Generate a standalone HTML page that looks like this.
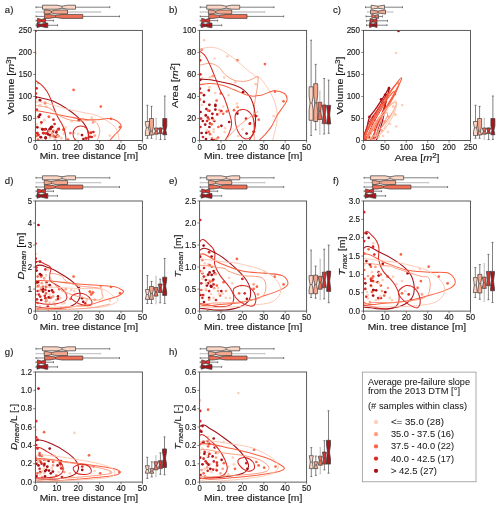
<!DOCTYPE html>
<html><head><meta charset="utf-8"><style>
html,body{margin:0;padding:0;background:#fff;overflow:hidden;}
svg{display:block;will-change:transform;}
text{font-family:"Liberation Sans", sans-serif;fill:#1a1a1a;stroke:#1a1a1a;stroke-width:0.14px;}
</style></head><body>
<svg width="500" height="508" viewBox="0 0 500 508">
<rect x="0" y="0" width="500" height="508" fill="#ffffff"/>
<g id="pa">
<clipPath id="clipa"><rect x="35.4" y="30.4" width="107" height="110.1"/></clipPath>
<g clip-path="url(#clipa)"><circle cx="35.6" cy="30.8" r="1.35" fill="#a50f15"/><circle cx="35.9" cy="53" r="1.35" fill="#fdd0bc"/><circle cx="37.9" cy="83.1" r="1.35" fill="#fca083"/><circle cx="36.6" cy="88.3" r="1.35" fill="#da2a25"/><circle cx="73.6" cy="89.9" r="1.35" fill="#fa6548"/><circle cx="35.9" cy="93.5" r="1.35" fill="#da2a25"/><circle cx="35.9" cy="97.4" r="1.35" fill="#a50f15"/><circle cx="39.8" cy="100" r="1.35" fill="#a50f15"/><circle cx="36.6" cy="102" r="1.35" fill="#fdd0bc"/><circle cx="45" cy="103.3" r="1.35" fill="#fca083"/><circle cx="39.8" cy="105.2" r="1.35" fill="#fdd0bc"/><circle cx="46.3" cy="106.5" r="1.35" fill="#fdd0bc"/><circle cx="36.6" cy="109.8" r="1.35" fill="#fa6548"/><circle cx="39.8" cy="115" r="1.35" fill="#a50f15"/><circle cx="38.5" cy="116.9" r="1.35" fill="#a50f15"/><circle cx="48.9" cy="116.3" r="1.35" fill="#fca083"/><circle cx="44.4" cy="120.2" r="1.35" fill="#fdd0bc"/><circle cx="71.7" cy="121.5" r="1.35" fill="#fdd0bc"/><circle cx="78.8" cy="120.2" r="1.35" fill="#a50f15"/><circle cx="91.8" cy="118.2" r="1.35" fill="#fdd0bc"/><circle cx="36.6" cy="124.7" r="1.35" fill="#fdd0bc"/><circle cx="40.5" cy="128" r="1.35" fill="#fdd0bc"/><circle cx="42.4" cy="129.2" r="1.35" fill="#a50f15"/><circle cx="45.7" cy="129.2" r="1.35" fill="#a50f15"/><circle cx="50.9" cy="127.3" r="1.35" fill="#a50f15"/><circle cx="49.6" cy="129.2" r="1.35" fill="#a50f15"/><circle cx="53.5" cy="130.5" r="1.35" fill="#fca083"/><circle cx="58" cy="129.2" r="1.35" fill="#fa6548"/><circle cx="63.9" cy="129.2" r="1.35" fill="#fa6548"/><circle cx="64.5" cy="133.1" r="1.35" fill="#fdd0bc"/><circle cx="37.2" cy="133.1" r="1.35" fill="#da2a25"/><circle cx="43.7" cy="133.1" r="1.35" fill="#da2a25"/><circle cx="47" cy="133.1" r="1.35" fill="#da2a25"/><circle cx="57.4" cy="135.7" r="1.35" fill="#a50f15"/><circle cx="53.5" cy="135.7" r="1.35" fill="#fa6548"/><circle cx="50.2" cy="137" r="1.35" fill="#fdd0bc"/><circle cx="40.5" cy="137" r="1.35" fill="#a50f15"/><circle cx="45.7" cy="138.3" r="1.35" fill="#a50f15"/><circle cx="61.3" cy="138.3" r="1.35" fill="#fdd0bc"/><circle cx="70.4" cy="133.1" r="1.35" fill="#fa6548"/><circle cx="74.3" cy="133.1" r="1.35" fill="#fdd0bc"/><circle cx="82" cy="135.1" r="1.35" fill="#a50f15"/><circle cx="83.4" cy="139" r="1.35" fill="#a50f15"/><circle cx="86" cy="138.3" r="1.35" fill="#fa6548"/><circle cx="89.8" cy="133.1" r="1.35" fill="#fa6548"/><circle cx="91.8" cy="137" r="1.35" fill="#da2a25"/><circle cx="78.2" cy="133.8" r="1.35" fill="#fdd0bc"/><circle cx="40.2" cy="100.4" r="1.35" fill="#a50f15"/><circle cx="45.2" cy="102.9" r="1.35" fill="#fa6548"/><circle cx="39.8" cy="105.4" r="1.35" fill="#fdd0bc"/><circle cx="36.9" cy="109.9" r="1.35" fill="#da2a25"/><circle cx="40.2" cy="114.5" r="1.35" fill="#a50f15"/><circle cx="39" cy="117" r="1.35" fill="#a50f15"/><circle cx="36.5" cy="118.2" r="1.35" fill="#fdd0bc"/><circle cx="48.9" cy="117" r="1.35" fill="#fa6548"/><circle cx="44.3" cy="119.9" r="1.35" fill="#fdd0bc"/><circle cx="41" cy="124" r="1.35" fill="#fdd0bc"/><circle cx="37.3" cy="127.3" r="1.35" fill="#a50f15"/><circle cx="51.8" cy="126.9" r="1.35" fill="#a50f15"/><circle cx="42.7" cy="129.4" r="1.35" fill="#a50f15"/><circle cx="44.8" cy="129.4" r="1.35" fill="#da2a25"/><circle cx="50.6" cy="129" r="1.35" fill="#a50f15"/><circle cx="48.5" cy="131" r="1.35" fill="#a50f15"/><circle cx="53" cy="131.9" r="1.35" fill="#da2a25"/><circle cx="56.8" cy="131" r="1.35" fill="#fa6548"/><circle cx="58.8" cy="129.4" r="1.35" fill="#fa6548"/><circle cx="63.4" cy="129.8" r="1.35" fill="#fa6548"/><circle cx="65.5" cy="127.3" r="1.35" fill="#fdd0bc"/><circle cx="37.3" cy="133.1" r="1.35" fill="#da2a25"/><circle cx="43.1" cy="133.1" r="1.35" fill="#da2a25"/><circle cx="45.6" cy="133.5" r="1.35" fill="#da2a25"/><circle cx="50.1" cy="135.2" r="1.35" fill="#a50f15"/><circle cx="53.9" cy="136.4" r="1.35" fill="#fa6548"/><circle cx="57.6" cy="136" r="1.35" fill="#a50f15"/><circle cx="41" cy="137.3" r="1.35" fill="#a50f15"/><circle cx="45.6" cy="137.3" r="1.35" fill="#a50f15"/><circle cx="37.3" cy="136.4" r="1.35" fill="#fdd0bc"/><circle cx="61.3" cy="138.1" r="1.35" fill="#fdd0bc"/><circle cx="49.7" cy="138.1" r="1.35" fill="#fdd0bc"/><circle cx="63.8" cy="134" r="1.35" fill="#fdd0bc"/><circle cx="100.8" cy="106.6" r="1.35" fill="#fa6548"/><circle cx="111" cy="118.8" r="1.35" fill="#fa6548"/><circle cx="120" cy="127.2" r="1.35" fill="#fa6548"/><circle cx="91.8" cy="117.6" r="1.35" fill="#fdd0bc"/><circle cx="93" cy="122.4" r="1.35" fill="#fca083"/><circle cx="94.8" cy="135.6" r="1.35" fill="#fca083"/><circle cx="109.8" cy="135.6" r="1.35" fill="#fdd0bc"/><circle cx="91.2" cy="132.6" r="1.35" fill="#da2a25"/><circle cx="93.4" cy="132" r="1.35" fill="#da2a25"/><circle cx="85.8" cy="138" r="1.35" fill="#da2a25"/><circle cx="90" cy="136.8" r="1.35" fill="#da2a25"/><circle cx="38" cy="139.5" r="1.35" fill="#fa6548"/><circle cx="42" cy="139.8" r="1.35" fill="#fdd0bc"/><circle cx="55" cy="139.6" r="1.35" fill="#fca083"/><circle cx="68" cy="139.6" r="1.35" fill="#fa6548"/><circle cx="75" cy="139.5" r="1.35" fill="#fdd0bc"/><circle cx="55.9" cy="136.9" r="1.35" fill="#da2a25"/><circle cx="65.8" cy="145.1" r="1.35" fill="#fa6548"/><circle cx="56.3" cy="132.4" r="1.35" fill="#a50f15"/><circle cx="51.8" cy="135.9" r="1.35" fill="#fca083"/><circle cx="52.3" cy="127" r="1.35" fill="#a50f15"/><circle cx="41.4" cy="122.3" r="1.35" fill="#da2a25"/><circle cx="57.7" cy="136.4" r="1.35" fill="#fdd0bc"/><circle cx="54.6" cy="124" r="1.35" fill="#da2a25"/><circle cx="36.7" cy="135.7" r="1.35" fill="#fa6548"/><circle cx="49.4" cy="131.1" r="1.35" fill="#fca083"/><circle cx="34.9" cy="136.8" r="1.35" fill="#da2a25"/><circle cx="51.6" cy="141.6" r="1.35" fill="#fdd0bc"/><circle cx="33.2" cy="135.5" r="1.35" fill="#a50f15"/><circle cx="48.2" cy="134.3" r="1.35" fill="#a50f15"/><circle cx="52" cy="133" r="1.35" fill="#fca083"/><circle cx="53.5" cy="119.7" r="1.35" fill="#da2a25"/><circle cx="58.8" cy="128.9" r="1.35" fill="#da2a25"/><circle cx="38.5" cy="134.8" r="1.35" fill="#da2a25"/><circle cx="34" cy="123.9" r="1.35" fill="#a50f15"/><circle cx="58.7" cy="136.2" r="1.35" fill="#fca083"/><path d="M35.5,80.5 C36.5,81.3 39.9,83.2 41.8,85.1 C43.7,86.9 45.5,89.2 47,91.6 C48.5,94 49.8,96.8 50.9,99.4 C52,102 52.4,104.4 53.5,107.2 C54.6,110 56,113.5 57.4,116.3 C58.8,119.1 60.7,121.7 61.9,124.1 C63.1,126.5 63.9,128.3 64.5,130.5 C65.2,132.7 65.6,135.1 65.8,137 C66,138.9 65.8,141.2 65.8,142" fill="none" stroke="#d92823" stroke-width="1.035"/><path d="M35.5,96.8 C37,97.1 41.4,98 44.4,98.7 C47.4,99.5 49.8,99.7 53.5,101.3 C57.2,102.9 62.6,106 66.5,108.5 C70.4,111 74.1,113.9 76.9,116.3 C79.7,118.7 81.7,120.7 83.4,122.8 C85.1,124.9 86.4,127 87.2,129.2 C88,131.3 88.2,133.6 88.5,135.7 C88.8,137.8 88.8,140.9 88.8,142" fill="none" stroke="#a50f15" stroke-width="1.035"/><path d="M35.5,101.3 C37.4,101.6 42.9,102.3 47,103.3 C51.1,104.3 55.7,106 60,107.2 C64.3,108.4 68.7,109.4 73,110.4 C77.3,111.4 82.2,112.2 86,113 C89.8,113.8 92.7,114 96,115.2 C99.3,116.4 102.6,118.2 105.6,120 C108.6,121.8 112,124 114,126 C116,128 116.8,130 117.6,132 C118.4,134 118.6,136.3 118.8,138 C119,139.7 118.8,141.3 118.8,142" fill="none" stroke="#fcc5ae" stroke-width="0.9199999999999999"/><path d="M35.5,110.4 C37.4,110.7 42.9,111.6 47,112.4 C51.1,113.2 55.7,114.1 60,115 C64.3,115.9 68.7,116.8 73,117.6 C77.3,118.3 82.2,119.1 86,119.5 C89.8,119.9 92.3,120 96,119.8 C99.7,119.6 104.8,118.6 108,118.6 C111.2,118.6 113.2,119.2 115.2,120 C117.2,120.8 119,122.5 120,123.6 C121,124.7 121.4,125.4 121.2,126.6 C121,127.8 120,129.3 118.8,130.8 C117.6,132.3 115.7,133.7 114,135.6 C112.3,137.5 109.4,140.9 108.5,142" fill="none" stroke="#f9603f" stroke-width="1.035"/><path d="M35.5,105.5 C37.2,105.8 43.4,106.4 46,107 C48.6,107.6 49.3,108 51,109 C52.7,110 54.2,111.7 56,113 C57.8,114.3 59.7,115.8 62,117 C64.3,118.2 67,119.3 70,120 C73,120.7 77,120.9 80,121 C83,121.1 85.9,120.7 88,120.5 C90.1,120.3 90.9,119.5 92.4,120 C93.9,120.5 96,122 97.2,123.6 C98.4,125.2 99.3,127.6 99.6,129.6 C99.9,131.6 99.5,133.5 99,135.6 C98.5,137.7 96.9,140.9 96.5,142" fill="none" stroke="#fc9676" stroke-width="0.9199999999999999"/><path d="M80.8,126 C82.7,126 85.2,127 86.5,128.3 C87.8,129.6 88.6,132.1 88.6,134 C88.6,135.9 87.8,138.4 86.5,139.7 C85.2,141 82.7,142 80.8,142 C78.9,142 76.4,141 75.1,139.7 C73.8,138.4 73,135.9 73,134 C73,132.1 73.8,129.6 75.1,128.3 C76.4,127 78.9,126 80.8,126Z" fill="none" stroke="#d92823" stroke-width="1.035"/></g>
<rect x="35.4" y="30.4" width="107" height="110.1" fill="none" stroke="#4a4a4a" stroke-width="0.9"/>
<line x1="35.4" y1="140.5" x2="35.4" y2="142.7" stroke="#4a4a4a" stroke-width="0.7"/>
<text x="35.4" y="149.5" text-anchor="middle" font-size="8.3" textLength="4.35" lengthAdjust="spacingAndGlyphs">0</text>
<line x1="56.8" y1="140.5" x2="56.8" y2="142.7" stroke="#4a4a4a" stroke-width="0.7"/>
<text x="56.8" y="149.5" text-anchor="middle" font-size="8.3" textLength="9.2" lengthAdjust="spacingAndGlyphs">10</text>
<line x1="78.2" y1="140.5" x2="78.2" y2="142.7" stroke="#4a4a4a" stroke-width="0.7"/>
<text x="78.2" y="149.5" text-anchor="middle" font-size="8.3" textLength="9.2" lengthAdjust="spacingAndGlyphs">20</text>
<line x1="99.6" y1="140.5" x2="99.6" y2="142.7" stroke="#4a4a4a" stroke-width="0.7"/>
<text x="99.6" y="149.5" text-anchor="middle" font-size="8.3" textLength="9.2" lengthAdjust="spacingAndGlyphs">30</text>
<line x1="121" y1="140.5" x2="121" y2="142.7" stroke="#4a4a4a" stroke-width="0.7"/>
<text x="121" y="149.5" text-anchor="middle" font-size="8.3" textLength="9.2" lengthAdjust="spacingAndGlyphs">40</text>
<line x1="142.4" y1="140.5" x2="142.4" y2="142.7" stroke="#4a4a4a" stroke-width="0.7"/>
<text x="142.4" y="149.5" text-anchor="middle" font-size="8.3" textLength="9.2" lengthAdjust="spacingAndGlyphs">50</text>
<line x1="33.2" y1="140.5" x2="35.4" y2="140.5" stroke="#4a4a4a" stroke-width="0.7"/>
<text x="32" y="143.1" text-anchor="end" font-size="8.3" textLength="4.35" lengthAdjust="spacingAndGlyphs">0</text>
<line x1="33.2" y1="118.48" x2="35.4" y2="118.48" stroke="#4a4a4a" stroke-width="0.7"/>
<text x="32" y="121.08" text-anchor="end" font-size="8.3" textLength="9.2" lengthAdjust="spacingAndGlyphs">50</text>
<line x1="33.2" y1="96.46" x2="35.4" y2="96.46" stroke="#4a4a4a" stroke-width="0.7"/>
<text x="32" y="99.06" text-anchor="end" font-size="8.3" textLength="13.45" lengthAdjust="spacingAndGlyphs">100</text>
<line x1="33.2" y1="74.44" x2="35.4" y2="74.44" stroke="#4a4a4a" stroke-width="0.7"/>
<text x="32" y="77.04" text-anchor="end" font-size="8.3" textLength="13.45" lengthAdjust="spacingAndGlyphs">150</text>
<line x1="33.2" y1="52.42" x2="35.4" y2="52.42" stroke="#4a4a4a" stroke-width="0.7"/>
<text x="32" y="55.02" text-anchor="end" font-size="8.3" textLength="13.45" lengthAdjust="spacingAndGlyphs">200</text>
<line x1="33.2" y1="30.4" x2="35.4" y2="30.4" stroke="#4a4a4a" stroke-width="0.7"/>
<text x="32" y="33" text-anchor="end" font-size="8.3" textLength="13.45" lengthAdjust="spacingAndGlyphs">250</text>
<text x="88.9" y="159.4" text-anchor="middle" font-size="9.2" textLength="98.4" lengthAdjust="spacingAndGlyphs">Min. tree distance [m]</text>
<text transform="translate(13.8,85.45) rotate(-90)" x="0" y="0" text-anchor="middle" font-size="9.2" textLength="58" lengthAdjust="spacingAndGlyphs">Volume [<tspan font-style="italic">m</tspan><tspan dy="-3" font-size="6.5">3</tspan><tspan dy="3">]</tspan></text>
<text x="4.8" y="13" font-size="9.6" fill="#000">a)</text>
<line x1="36" y1="7.2" x2="42.5" y2="7.2" stroke="#4a4a4a" stroke-width="0.7"/>
<line x1="75.5" y1="7.2" x2="109.8" y2="7.2" stroke="#4a4a4a" stroke-width="0.7"/>
<line x1="36" y1="6.2" x2="36" y2="8.2" stroke="#4a4a4a" stroke-width="0.7"/>
<line x1="109.8" y1="6.2" x2="109.8" y2="8.2" stroke="#4a4a4a" stroke-width="0.7"/>
<polygon points="42.5,5.2 57,5.2 62,6.2 67.5,5.2 75.5,5.2 75.5,9.2 67.5,9.2 62,8.2 57,9.2 42.5,9.2" fill="#fcd5c5" stroke="#3a3a3a" stroke-width="0.7"/>
<line x1="62" y1="6.2" x2="62" y2="8.2" stroke="#3a3a3a" stroke-width="0.6"/>
<line x1="36" y1="12" x2="44.2" y2="12" stroke="#c8c8c8" stroke-width="1.3"/>
<line x1="67.5" y1="12" x2="100.8" y2="12" stroke="#c8c8c8" stroke-width="1.3"/>
<line x1="36" y1="11" x2="36" y2="13" stroke="#c8c8c8" stroke-width="0.7"/>
<line x1="100.8" y1="11" x2="100.8" y2="13" stroke="#c8c8c8" stroke-width="0.7"/>
<polygon points="44.2,10 47,10 51.5,11 56,10 67.5,10 67.5,14 56,14 51.5,13 47,14 44.2,14" fill="#f5a88e" stroke="#3a3a3a" stroke-width="0.7"/>
<line x1="51.5" y1="11" x2="51.5" y2="13" stroke="#3a3a3a" stroke-width="0.6"/>
<line x1="36" y1="16.4" x2="44.5" y2="16.4" stroke="#4a4a4a" stroke-width="0.7"/>
<line x1="82.8" y1="16.4" x2="119.5" y2="16.4" stroke="#4a4a4a" stroke-width="0.7"/>
<line x1="36" y1="15.4" x2="36" y2="17.4" stroke="#4a4a4a" stroke-width="0.7"/>
<line x1="119.5" y1="15.4" x2="119.5" y2="17.4" stroke="#4a4a4a" stroke-width="0.7"/>
<polygon points="44.5,14.4 49,14.4 55.5,15.4 62,14.4 82.8,14.4 82.8,18.4 62,18.4 55.5,17.4 49,18.4 44.5,18.4" fill="#ee6f55" stroke="#3a3a3a" stroke-width="0.7"/>
<line x1="55.5" y1="15.4" x2="55.5" y2="17.4" stroke="#3a3a3a" stroke-width="0.6"/>
<line x1="36" y1="20.6" x2="37.5" y2="20.6" stroke="#4a4a4a" stroke-width="0.7"/>
<line x1="45.5" y1="20.6" x2="53.5" y2="20.6" stroke="#4a4a4a" stroke-width="0.7"/>
<line x1="36" y1="19.6" x2="36" y2="21.6" stroke="#4a4a4a" stroke-width="0.7"/>
<line x1="53.5" y1="19.6" x2="53.5" y2="21.6" stroke="#4a4a4a" stroke-width="0.7"/>
<polygon points="37.5,18.3 37.5,18.3 41.5,19.45 45.5,18.3 45.5,18.3 45.5,22.9 45.5,22.9 41.5,21.75 37.5,22.9 37.5,22.9" fill="#d5332e" stroke="#3a3a3a" stroke-width="0.7"/>
<line x1="41.5" y1="19.45" x2="41.5" y2="21.75" stroke="#3a3a3a" stroke-width="0.6"/>
<line x1="36" y1="25.3" x2="37" y2="25.3" stroke="#4a4a4a" stroke-width="0.7"/>
<line x1="47.8" y1="25.3" x2="57.5" y2="25.3" stroke="#4a4a4a" stroke-width="0.7"/>
<line x1="36" y1="24.3" x2="36" y2="26.3" stroke="#4a4a4a" stroke-width="0.7"/>
<line x1="57.5" y1="24.3" x2="57.5" y2="26.3" stroke="#4a4a4a" stroke-width="0.7"/>
<polygon points="37,23 37,23 41,24.15 46,23 47.8,23 47.8,27.6 46,27.6 41,26.45 37,27.6 37,27.6" fill="#a8161c" stroke="#3a3a3a" stroke-width="0.7"/>
<line x1="41" y1="24.15" x2="41" y2="26.45" stroke="#3a3a3a" stroke-width="0.6"/>
<line x1="147.4" y1="105.3" x2="147.4" y2="121.5" stroke="#4a4a4a" stroke-width="0.7"/>
<line x1="147.4" y1="135.6" x2="147.4" y2="138.3" stroke="#4a4a4a" stroke-width="0.7"/>
<line x1="146.4" y1="105.3" x2="148.4" y2="105.3" stroke="#4a4a4a" stroke-width="0.7"/>
<line x1="146.4" y1="138.3" x2="148.4" y2="138.3" stroke="#4a4a4a" stroke-width="0.7"/>
<polygon points="145.4,121.5 145.4,123.8 146.4,127.7 145.4,131.5 145.4,135.6 149.4,135.6 149.4,131.5 148.4,127.7 149.4,123.8 149.4,121.5" fill="#fcd5c5" stroke="#3a3a3a" stroke-width="0.7"/>
<line x1="146.4" y1="127.7" x2="148.4" y2="127.7" stroke="#3a3a3a" stroke-width="0.6"/>
<line x1="151.5" y1="106.4" x2="151.5" y2="118.5" stroke="#4a4a4a" stroke-width="0.7"/>
<line x1="151.5" y1="135" x2="151.5" y2="138.3" stroke="#4a4a4a" stroke-width="0.7"/>
<line x1="150.5" y1="106.4" x2="152.5" y2="106.4" stroke="#4a4a4a" stroke-width="0.7"/>
<line x1="150.5" y1="138.3" x2="152.5" y2="138.3" stroke="#4a4a4a" stroke-width="0.7"/>
<polygon points="149.5,118.5 149.5,126 150.5,131.2 149.5,135 149.5,135 153.5,135 153.5,135 152.5,131.2 153.5,126 153.5,118.5" fill="#f5a88e" stroke="#3a3a3a" stroke-width="0.7"/>
<line x1="150.5" y1="131.2" x2="152.5" y2="131.2" stroke="#3a3a3a" stroke-width="0.6"/>
<line x1="156.2" y1="118.2" x2="156.2" y2="128" stroke="#c8c8c8" stroke-width="1.3"/>
<line x1="156.2" y1="134.2" x2="156.2" y2="139.5" stroke="#c8c8c8" stroke-width="1.3"/>
<line x1="155.2" y1="118.2" x2="157.2" y2="118.2" stroke="#c8c8c8" stroke-width="0.7"/>
<line x1="155.2" y1="139.5" x2="157.2" y2="139.5" stroke="#c8c8c8" stroke-width="0.7"/>
<polygon points="154.2,128 154.2,128 155.2,131.2 154.2,134.2 154.2,134.2 158.2,134.2 158.2,134.2 157.2,131.2 158.2,128 158.2,128" fill="#ee6f55" stroke="#3a3a3a" stroke-width="0.7"/>
<line x1="155.2" y1="131.2" x2="157.2" y2="131.2" stroke="#3a3a3a" stroke-width="0.6"/>
<line x1="160.5" y1="128" x2="160.5" y2="128" stroke="#4a4a4a" stroke-width="0.7"/>
<line x1="160.5" y1="133.6" x2="160.5" y2="139.5" stroke="#4a4a4a" stroke-width="0.7"/>
<line x1="159.5" y1="128" x2="161.5" y2="128" stroke="#4a4a4a" stroke-width="0.7"/>
<line x1="159.5" y1="139.5" x2="161.5" y2="139.5" stroke="#4a4a4a" stroke-width="0.7"/>
<polygon points="158.5,128 158.5,128 159.5,131.3 158.5,133.6 158.5,133.6 162.5,133.6 162.5,133.6 161.5,131.3 162.5,128 162.5,128" fill="#d5332e" stroke="#3a3a3a" stroke-width="0.7"/>
<line x1="159.5" y1="131.3" x2="161.5" y2="131.3" stroke="#3a3a3a" stroke-width="0.6"/>
<line x1="164.8" y1="96" x2="164.8" y2="118.5" stroke="#4a4a4a" stroke-width="0.7"/>
<line x1="164.8" y1="134.75" x2="164.8" y2="139.5" stroke="#4a4a4a" stroke-width="0.7"/>
<line x1="163.8" y1="96" x2="165.8" y2="96" stroke="#4a4a4a" stroke-width="0.7"/>
<line x1="163.8" y1="139.5" x2="165.8" y2="139.5" stroke="#4a4a4a" stroke-width="0.7"/>
<polygon points="162.8,118.5 162.8,126 163.8,130.3 162.8,134.75 162.8,134.75 166.8,134.75 166.8,134.75 165.8,130.3 166.8,126 166.8,118.5" fill="#a8161c" stroke="#3a3a3a" stroke-width="0.7"/>
<line x1="163.8" y1="130.3" x2="165.8" y2="130.3" stroke="#3a3a3a" stroke-width="0.6"/>
</g>
<g id="pb">
<clipPath id="clipb"><rect x="199.6" y="30.4" width="107" height="110.1"/></clipPath>
<g clip-path="url(#clipb)"><circle cx="204.1" cy="40.2" r="1.35" fill="#fdd0bc"/><circle cx="201.7" cy="49.7" r="1.35" fill="#fa6548"/><circle cx="199.8" cy="56" r="1.35" fill="#fdd0bc"/><circle cx="200.2" cy="60.3" r="1.35" fill="#da2a25"/><circle cx="214.5" cy="58.5" r="1.35" fill="#fdd0bc"/><circle cx="227.3" cy="56.3" r="1.35" fill="#fdd0bc"/><circle cx="237.3" cy="60.3" r="1.35" fill="#fa6548"/><circle cx="200.4" cy="74.3" r="1.35" fill="#da2a25"/><circle cx="202.3" cy="78" r="1.35" fill="#fdd0bc"/><circle cx="212.6" cy="76.2" r="1.35" fill="#fca083"/><circle cx="224.2" cy="77.4" r="1.35" fill="#fdd0bc"/><circle cx="200.4" cy="79.8" r="1.35" fill="#a50f15"/><circle cx="209.6" cy="87.5" r="1.35" fill="#fdd0bc"/><circle cx="235.2" cy="82.3" r="1.35" fill="#fdd0bc"/><circle cx="255.3" cy="84.1" r="1.35" fill="#fdd0bc"/><circle cx="199.8" cy="88.6" r="1.35" fill="#a50f15"/><circle cx="204" cy="95.2" r="1.35" fill="#a50f15"/><circle cx="208.8" cy="90.4" r="1.35" fill="#da2a25"/><circle cx="209.4" cy="87.4" r="1.35" fill="#fdd0bc"/><circle cx="199.8" cy="99.4" r="1.35" fill="#fa6548"/><circle cx="204" cy="101.8" r="1.35" fill="#a50f15"/><circle cx="209.4" cy="104.8" r="1.35" fill="#a50f15"/><circle cx="215.4" cy="104.8" r="1.35" fill="#a50f15"/><circle cx="215.4" cy="106" r="1.35" fill="#a50f15"/><circle cx="216.6" cy="100.6" r="1.35" fill="#fa6548"/><circle cx="220.8" cy="93.4" r="1.35" fill="#fa6548"/><circle cx="228.6" cy="95.2" r="1.35" fill="#fdd0bc"/><circle cx="206.4" cy="109" r="1.35" fill="#a50f15"/><circle cx="209.4" cy="110.8" r="1.35" fill="#da2a25"/><circle cx="212.4" cy="113.8" r="1.35" fill="#a50f15"/><circle cx="217.2" cy="114.4" r="1.35" fill="#da2a25"/><circle cx="223.2" cy="113.8" r="1.35" fill="#fa6548"/><circle cx="219.6" cy="110.2" r="1.35" fill="#fca083"/><circle cx="223.2" cy="106.6" r="1.35" fill="#fdd0bc"/><circle cx="226.8" cy="111.4" r="1.35" fill="#fa6548"/><circle cx="234" cy="110.2" r="1.35" fill="#fa6548"/><circle cx="237.6" cy="107.2" r="1.35" fill="#fca083"/><circle cx="237" cy="103.6" r="1.35" fill="#fdd0bc"/><circle cx="243" cy="92.2" r="1.35" fill="#a50f15"/><circle cx="201" cy="118.6" r="1.35" fill="#da2a25"/><circle cx="202.8" cy="121" r="1.35" fill="#a50f15"/><circle cx="207" cy="121" r="1.35" fill="#da2a25"/><circle cx="208.8" cy="119.2" r="1.35" fill="#fa6548"/><circle cx="210" cy="123.4" r="1.35" fill="#da2a25"/><circle cx="214.2" cy="121" r="1.35" fill="#a50f15"/><circle cx="200.4" cy="127" r="1.35" fill="#da2a25"/><circle cx="205.2" cy="124.6" r="1.35" fill="#a50f15"/><circle cx="209.4" cy="127" r="1.35" fill="#a50f15"/><circle cx="218.4" cy="127" r="1.35" fill="#fa6548"/><circle cx="221.4" cy="125.8" r="1.35" fill="#a50f15"/><circle cx="225" cy="128.2" r="1.35" fill="#fdd0bc"/><circle cx="201.6" cy="133" r="1.35" fill="#a50f15"/><circle cx="207" cy="130" r="1.35" fill="#fdd0bc"/><circle cx="208.8" cy="131.8" r="1.35" fill="#fa6548"/><circle cx="210" cy="134.2" r="1.35" fill="#fa6548"/><circle cx="213.6" cy="129.4" r="1.35" fill="#fdd0bc"/><circle cx="213.6" cy="131.8" r="1.35" fill="#fdd0bc"/><circle cx="246" cy="118.6" r="1.35" fill="#da2a25"/><circle cx="249.6" cy="124" r="1.35" fill="#fa6548"/><circle cx="246.6" cy="133.6" r="1.35" fill="#a50f15"/><circle cx="242.4" cy="129.4" r="1.35" fill="#fdd0bc"/><circle cx="238.2" cy="136" r="1.35" fill="#fdd0bc"/><circle cx="254.4" cy="115.6" r="1.35" fill="#fa6548"/><circle cx="253.2" cy="131.8" r="1.35" fill="#fa6548"/><circle cx="264.9" cy="64.1" r="1.35" fill="#fa6548"/><circle cx="256.3" cy="84.4" r="1.35" fill="#fdd0bc"/><circle cx="275" cy="91.7" r="1.35" fill="#fa6548"/><circle cx="283.5" cy="101.3" r="1.35" fill="#fa6548"/><circle cx="273.6" cy="116.1" r="1.35" fill="#fdd0bc"/><circle cx="256.3" cy="116.1" r="1.35" fill="#da2a25"/><circle cx="258.7" cy="119.7" r="1.35" fill="#fa6548"/><circle cx="250" cy="123.4" r="1.35" fill="#da2a25"/><circle cx="254" cy="131.5" r="1.35" fill="#da2a25"/><circle cx="203" cy="137" r="1.35" fill="#da2a25"/><circle cx="206" cy="139" r="1.35" fill="#a50f15"/><circle cx="212" cy="138" r="1.35" fill="#fca083"/><circle cx="218" cy="137.5" r="1.35" fill="#fa6548"/><circle cx="200.5" cy="112" r="1.35" fill="#a50f15"/><circle cx="202" cy="105" r="1.35" fill="#fdd0bc"/><circle cx="206" cy="115" r="1.35" fill="#fca083"/><circle cx="211.7" cy="124.3" r="1.35" fill="#fa6548"/><circle cx="214.2" cy="140.1" r="1.35" fill="#da2a25"/><circle cx="211.8" cy="139.8" r="1.35" fill="#a50f15"/><circle cx="212.3" cy="118.2" r="1.35" fill="#a50f15"/><circle cx="215.2" cy="93.1" r="1.35" fill="#fdd0bc"/><circle cx="205.7" cy="115.4" r="1.35" fill="#a50f15"/><circle cx="237.4" cy="113.6" r="1.35" fill="#a50f15"/><circle cx="229.2" cy="122" r="1.35" fill="#a50f15"/><circle cx="224.7" cy="132.2" r="1.35" fill="#fdd0bc"/><circle cx="215.4" cy="109.6" r="1.35" fill="#a50f15"/><circle cx="219.9" cy="112.7" r="1.35" fill="#fdd0bc"/><circle cx="201.4" cy="93" r="1.35" fill="#fa6548"/><circle cx="199.1" cy="92.5" r="1.35" fill="#a50f15"/><circle cx="207.8" cy="117.4" r="1.35" fill="#da2a25"/><circle cx="209.9" cy="77.4" r="1.35" fill="#fdd0bc"/><circle cx="216.5" cy="139.2" r="1.35" fill="#fca083"/><circle cx="208.1" cy="110.6" r="1.35" fill="#fa6548"/><circle cx="206.3" cy="132.8" r="1.35" fill="#a50f15"/><circle cx="213.6" cy="120.1" r="1.35" fill="#fca083"/><circle cx="221.4" cy="111" r="1.35" fill="#da2a25"/><path d="M199.6,51 C200.3,50.5 202.3,48.7 204.1,48.1 C205.9,47.5 207.8,47.2 210.2,47.3 C212.6,47.4 215.8,47.7 218.7,48.7 C221.5,49.8 224.2,51.6 227.3,53.6 C230.4,55.6 233.8,58.2 237,60.9 C240.2,63.5 243.6,66.8 246.8,69.5 C250.1,72.2 254.2,75.2 256.5,76.8 C258.9,78.4 258.7,76.5 260.9,79 C263.1,81.5 267.5,87.5 269.9,91.7 C272.3,95.9 274.2,100.1 275.4,104.3 C276.6,108.5 277.2,112.8 277.2,117 C277.2,121.2 276.3,125.5 275.4,129.7 C274.5,133.9 272.6,139.9 272,142" fill="none" stroke="#fcc5ae" stroke-width="0.9199999999999999"/><path d="M199.6,65.2 C201.4,64.9 207,63.1 210.2,63.4 C213.4,63.7 216.3,65.2 218.7,67 C221.1,68.8 222.2,72.1 224.8,74.3 C227.5,76.5 230.9,79.3 234.6,80.4 C238.3,81.5 243.2,81.6 246.8,81 C250.5,80.4 254.6,77.4 256.5,76.8 C258.4,76.2 258.1,75.3 258.2,77.2 C258.3,79.1 257.8,83.5 257.2,88 C256.6,92.5 255.1,98.5 254.5,104.3 C253.9,110 253.6,116.2 253.6,122.5 C253.6,128.8 254.3,138.8 254.5,142" fill="none" stroke="#fc9676" stroke-width="0.9199999999999999"/><path d="M199.6,51.2 C200.6,52 203.3,53.2 205.3,56 C207.3,58.8 209.6,64.1 211.4,68.2 C213.2,72.3 214.9,76.8 216.3,80.4 C217.7,84 218.7,87 220,90 C221.3,93 222.9,94.4 224.4,98.2 C225.9,102 228,108.4 229.2,112.6 C230.4,116.8 231.6,120 231.6,123.4 C231.6,126.8 230.4,130 229.2,133 C228,136 225.2,140.1 224.4,141.5" fill="none" stroke="#d92823" stroke-width="1.035"/><path d="M199.6,79.2 C201.4,79.3 206.4,79.3 210.2,79.8 C214,80.3 218.4,81.4 222.4,82.3 C226.4,83.2 230.5,83.8 234,85 C237.5,86.2 240.8,87.6 243.6,89.8 C246.4,92 249,95 250.8,98.2 C252.6,101.4 253.6,105.2 254.4,109 C255.2,112.8 255.6,117.4 255.6,121 C255.6,124.6 255.2,127.8 254.4,130.6 C253.6,133.4 251.9,135.9 250.8,137.8 C249.7,139.7 248.5,141.3 248,142" fill="none" stroke="#a50f15" stroke-width="1.035"/><path d="M199.6,84.7 C201.4,84.5 206.4,83.4 210.2,83.5 C214,83.6 218.4,84.2 222.4,85.3 C226.4,86.3 229.5,88 234,89.8 C238.5,91.5 245.1,94.9 249.6,95.8 C254.1,96.7 256.9,96.1 260.9,95.3 C264.9,94.5 269.7,91.1 273.6,90.8 C277.5,90.5 282.1,92 284.4,93.5 C286.6,95 287.2,97.7 287.1,99.8 C287,101.9 285.1,103.6 283.5,106.2 C281.9,108.8 279.2,111.9 277.2,115.2 C275.2,118.5 273.8,122.8 271.7,126.1 C269.6,129.4 266.9,132.4 264.5,135.1 C262.1,137.8 258.4,140.8 257.2,142" fill="none" stroke="#f9603f" stroke-width="1.035"/><path d="M236.4,112.6 C237.8,110.7 241.2,109.4 243.6,109.6 C246,109.8 249,111.5 250.8,113.8 C252.6,116.1 254,120 254.4,123.4 C254.8,126.8 254.6,131.6 253.2,134.2 C251.8,136.8 248.4,139.2 246,139 C243.6,138.8 240.6,136 238.8,133 C237,130 235.6,124.4 235.2,121 C234.8,117.6 235,114.5 236.4,112.6Z" fill="none" stroke="#d92823" stroke-width="1.035"/><path d="M224,142 C226.3,139.5 233.3,131.1 237.6,127 C241.9,122.9 246.2,120 249.6,117.4 C253,114.8 256.6,112.4 258,111.4" fill="none" stroke="#fc9676" stroke-width="0.9199999999999999"/></g>
<rect x="199.6" y="30.4" width="107" height="110.1" fill="none" stroke="#4a4a4a" stroke-width="0.9"/>
<line x1="199.6" y1="140.5" x2="199.6" y2="142.7" stroke="#4a4a4a" stroke-width="0.7"/>
<text x="199.6" y="149.5" text-anchor="middle" font-size="8.3" textLength="4.35" lengthAdjust="spacingAndGlyphs">0</text>
<line x1="221" y1="140.5" x2="221" y2="142.7" stroke="#4a4a4a" stroke-width="0.7"/>
<text x="221" y="149.5" text-anchor="middle" font-size="8.3" textLength="9.2" lengthAdjust="spacingAndGlyphs">10</text>
<line x1="242.4" y1="140.5" x2="242.4" y2="142.7" stroke="#4a4a4a" stroke-width="0.7"/>
<text x="242.4" y="149.5" text-anchor="middle" font-size="8.3" textLength="9.2" lengthAdjust="spacingAndGlyphs">20</text>
<line x1="263.8" y1="140.5" x2="263.8" y2="142.7" stroke="#4a4a4a" stroke-width="0.7"/>
<text x="263.8" y="149.5" text-anchor="middle" font-size="8.3" textLength="9.2" lengthAdjust="spacingAndGlyphs">30</text>
<line x1="285.2" y1="140.5" x2="285.2" y2="142.7" stroke="#4a4a4a" stroke-width="0.7"/>
<text x="285.2" y="149.5" text-anchor="middle" font-size="8.3" textLength="9.2" lengthAdjust="spacingAndGlyphs">40</text>
<line x1="306.6" y1="140.5" x2="306.6" y2="142.7" stroke="#4a4a4a" stroke-width="0.7"/>
<text x="306.6" y="149.5" text-anchor="middle" font-size="8.3" textLength="9.2" lengthAdjust="spacingAndGlyphs">50</text>
<line x1="197.4" y1="140.5" x2="199.6" y2="140.5" stroke="#4a4a4a" stroke-width="0.7"/>
<text x="196.2" y="143.1" text-anchor="end" font-size="8.3" textLength="4.35" lengthAdjust="spacingAndGlyphs">0</text>
<line x1="197.4" y1="118.48" x2="199.6" y2="118.48" stroke="#4a4a4a" stroke-width="0.7"/>
<text x="196.2" y="121.08" text-anchor="end" font-size="8.3" textLength="9.2" lengthAdjust="spacingAndGlyphs">20</text>
<line x1="197.4" y1="96.46" x2="199.6" y2="96.46" stroke="#4a4a4a" stroke-width="0.7"/>
<text x="196.2" y="99.06" text-anchor="end" font-size="8.3" textLength="9.2" lengthAdjust="spacingAndGlyphs">40</text>
<line x1="197.4" y1="74.44" x2="199.6" y2="74.44" stroke="#4a4a4a" stroke-width="0.7"/>
<text x="196.2" y="77.04" text-anchor="end" font-size="8.3" textLength="9.2" lengthAdjust="spacingAndGlyphs">60</text>
<line x1="197.4" y1="52.42" x2="199.6" y2="52.42" stroke="#4a4a4a" stroke-width="0.7"/>
<text x="196.2" y="55.02" text-anchor="end" font-size="8.3" textLength="9.2" lengthAdjust="spacingAndGlyphs">80</text>
<line x1="197.4" y1="30.4" x2="199.6" y2="30.4" stroke="#4a4a4a" stroke-width="0.7"/>
<text x="196.2" y="33" text-anchor="end" font-size="8.3" textLength="13.45" lengthAdjust="spacingAndGlyphs">100</text>
<text x="253.1" y="159.4" text-anchor="middle" font-size="9.2" textLength="98.4" lengthAdjust="spacingAndGlyphs">Min. tree distance [m]</text>
<text transform="translate(178.4,85.45) rotate(-90)" x="0" y="0" text-anchor="middle" font-size="9.2" textLength="45" lengthAdjust="spacingAndGlyphs">Area [<tspan font-style="italic">m</tspan><tspan dy="-3" font-size="6.5">2</tspan><tspan dy="3">]</tspan></text>
<text x="168.9" y="13" font-size="9.6" fill="#000">b)</text>
<line x1="200.2" y1="7.2" x2="206.7" y2="7.2" stroke="#4a4a4a" stroke-width="0.7"/>
<line x1="239.7" y1="7.2" x2="274" y2="7.2" stroke="#4a4a4a" stroke-width="0.7"/>
<line x1="200.2" y1="6.2" x2="200.2" y2="8.2" stroke="#4a4a4a" stroke-width="0.7"/>
<line x1="274" y1="6.2" x2="274" y2="8.2" stroke="#4a4a4a" stroke-width="0.7"/>
<polygon points="206.7,5.2 221.2,5.2 226.2,6.2 231.7,5.2 239.7,5.2 239.7,9.2 231.7,9.2 226.2,8.2 221.2,9.2 206.7,9.2" fill="#fcd5c5" stroke="#3a3a3a" stroke-width="0.7"/>
<line x1="226.2" y1="6.2" x2="226.2" y2="8.2" stroke="#3a3a3a" stroke-width="0.6"/>
<line x1="200.2" y1="12" x2="208.4" y2="12" stroke="#c8c8c8" stroke-width="1.3"/>
<line x1="231.7" y1="12" x2="265" y2="12" stroke="#c8c8c8" stroke-width="1.3"/>
<line x1="200.2" y1="11" x2="200.2" y2="13" stroke="#c8c8c8" stroke-width="0.7"/>
<line x1="265" y1="11" x2="265" y2="13" stroke="#c8c8c8" stroke-width="0.7"/>
<polygon points="208.4,10 211.2,10 215.7,11 220.2,10 231.7,10 231.7,14 220.2,14 215.7,13 211.2,14 208.4,14" fill="#f5a88e" stroke="#3a3a3a" stroke-width="0.7"/>
<line x1="215.7" y1="11" x2="215.7" y2="13" stroke="#3a3a3a" stroke-width="0.6"/>
<line x1="200.2" y1="16.4" x2="208.7" y2="16.4" stroke="#4a4a4a" stroke-width="0.7"/>
<line x1="247" y1="16.4" x2="283.7" y2="16.4" stroke="#4a4a4a" stroke-width="0.7"/>
<line x1="200.2" y1="15.4" x2="200.2" y2="17.4" stroke="#4a4a4a" stroke-width="0.7"/>
<line x1="283.7" y1="15.4" x2="283.7" y2="17.4" stroke="#4a4a4a" stroke-width="0.7"/>
<polygon points="208.7,14.4 213.2,14.4 219.7,15.4 226.2,14.4 247,14.4 247,18.4 226.2,18.4 219.7,17.4 213.2,18.4 208.7,18.4" fill="#ee6f55" stroke="#3a3a3a" stroke-width="0.7"/>
<line x1="219.7" y1="15.4" x2="219.7" y2="17.4" stroke="#3a3a3a" stroke-width="0.6"/>
<line x1="200.2" y1="20.6" x2="201.7" y2="20.6" stroke="#4a4a4a" stroke-width="0.7"/>
<line x1="209.7" y1="20.6" x2="217.7" y2="20.6" stroke="#4a4a4a" stroke-width="0.7"/>
<line x1="200.2" y1="19.6" x2="200.2" y2="21.6" stroke="#4a4a4a" stroke-width="0.7"/>
<line x1="217.7" y1="19.6" x2="217.7" y2="21.6" stroke="#4a4a4a" stroke-width="0.7"/>
<polygon points="201.7,18.3 201.7,18.3 205.7,19.45 209.7,18.3 209.7,18.3 209.7,22.9 209.7,22.9 205.7,21.75 201.7,22.9 201.7,22.9" fill="#d5332e" stroke="#3a3a3a" stroke-width="0.7"/>
<line x1="205.7" y1="19.45" x2="205.7" y2="21.75" stroke="#3a3a3a" stroke-width="0.6"/>
<line x1="200.2" y1="25.3" x2="201.2" y2="25.3" stroke="#4a4a4a" stroke-width="0.7"/>
<line x1="212" y1="25.3" x2="221.7" y2="25.3" stroke="#4a4a4a" stroke-width="0.7"/>
<line x1="200.2" y1="24.3" x2="200.2" y2="26.3" stroke="#4a4a4a" stroke-width="0.7"/>
<line x1="221.7" y1="24.3" x2="221.7" y2="26.3" stroke="#4a4a4a" stroke-width="0.7"/>
<polygon points="201.2,23 201.2,23 205.2,24.15 210.2,23 212,23 212,27.6 210.2,27.6 205.2,26.45 201.2,27.6 201.2,27.6" fill="#a8161c" stroke="#3a3a3a" stroke-width="0.7"/>
<line x1="205.2" y1="24.15" x2="205.2" y2="26.45" stroke="#3a3a3a" stroke-width="0.6"/>
<line x1="311.1" y1="40.2" x2="311.1" y2="86.8" stroke="#4a4a4a" stroke-width="0.7"/>
<line x1="311.1" y1="120.3" x2="311.1" y2="135.4" stroke="#4a4a4a" stroke-width="0.7"/>
<line x1="310.1" y1="40.2" x2="312.1" y2="40.2" stroke="#4a4a4a" stroke-width="0.7"/>
<line x1="310.1" y1="135.4" x2="312.1" y2="135.4" stroke="#4a4a4a" stroke-width="0.7"/>
<polygon points="309.1,86.8 309.1,96 310.1,103 309.1,110 309.1,120.3 313.1,120.3 313.1,110 312.1,103 313.1,96 313.1,86.8" fill="#fcd5c5" stroke="#3a3a3a" stroke-width="0.7"/>
<line x1="310.1" y1="103" x2="312.1" y2="103" stroke="#3a3a3a" stroke-width="0.6"/>
<line x1="315.7" y1="64.4" x2="315.7" y2="83.7" stroke="#4a4a4a" stroke-width="0.7"/>
<line x1="315.7" y1="121.5" x2="315.7" y2="129.8" stroke="#4a4a4a" stroke-width="0.7"/>
<line x1="314.7" y1="64.4" x2="316.7" y2="64.4" stroke="#4a4a4a" stroke-width="0.7"/>
<line x1="314.7" y1="129.8" x2="316.7" y2="129.8" stroke="#4a4a4a" stroke-width="0.7"/>
<polygon points="313.7,83.7 313.7,95 314.7,103 313.7,111 313.7,121.5 317.7,121.5 317.7,111 316.7,103 317.7,95 317.7,83.7" fill="#f5a88e" stroke="#3a3a3a" stroke-width="0.7"/>
<line x1="314.7" y1="103" x2="316.7" y2="103" stroke="#3a3a3a" stroke-width="0.6"/>
<line x1="319.8" y1="90.9" x2="319.8" y2="102.3" stroke="#c8c8c8" stroke-width="1.3"/>
<line x1="319.8" y1="119.5" x2="319.8" y2="134.4" stroke="#c8c8c8" stroke-width="1.3"/>
<line x1="318.8" y1="90.9" x2="320.8" y2="90.9" stroke="#c8c8c8" stroke-width="0.7"/>
<line x1="318.8" y1="134.4" x2="320.8" y2="134.4" stroke="#c8c8c8" stroke-width="0.7"/>
<polygon points="317.8,102.3 317.8,102.3 318.8,111 317.8,119.5 317.8,119.5 321.8,119.5 321.8,119.5 320.8,111 321.8,102.3 321.8,102.3" fill="#ee6f55" stroke="#3a3a3a" stroke-width="0.7"/>
<line x1="318.8" y1="111" x2="320.8" y2="111" stroke="#3a3a3a" stroke-width="0.6"/>
<line x1="324.2" y1="78.5" x2="324.2" y2="105" stroke="#4a4a4a" stroke-width="0.7"/>
<line x1="324.2" y1="123.6" x2="324.2" y2="134" stroke="#4a4a4a" stroke-width="0.7"/>
<line x1="323.2" y1="78.5" x2="325.2" y2="78.5" stroke="#4a4a4a" stroke-width="0.7"/>
<line x1="323.2" y1="134" x2="325.2" y2="134" stroke="#4a4a4a" stroke-width="0.7"/>
<polygon points="322.2,105 322.2,105 323.2,114 322.2,123.6 322.2,123.6 326.2,123.6 326.2,123.6 325.2,114 326.2,105 326.2,105" fill="#d5332e" stroke="#3a3a3a" stroke-width="0.7"/>
<line x1="323.2" y1="114" x2="325.2" y2="114" stroke="#3a3a3a" stroke-width="0.6"/>
<line x1="328.7" y1="80.1" x2="328.7" y2="105.4" stroke="#4a4a4a" stroke-width="0.7"/>
<line x1="328.7" y1="124" x2="328.7" y2="133.3" stroke="#4a4a4a" stroke-width="0.7"/>
<line x1="327.7" y1="80.1" x2="329.7" y2="80.1" stroke="#4a4a4a" stroke-width="0.7"/>
<line x1="327.7" y1="133.3" x2="329.7" y2="133.3" stroke="#4a4a4a" stroke-width="0.7"/>
<polygon points="326.7,105.4 326.7,105.4 327.7,114.5 326.7,124 326.7,124 330.7,124 330.7,124 329.7,114.5 330.7,105.4 330.7,105.4" fill="#a8161c" stroke="#3a3a3a" stroke-width="0.7"/>
<line x1="327.7" y1="114.5" x2="329.7" y2="114.5" stroke="#3a3a3a" stroke-width="0.6"/>
</g>
<g id="pc">
<clipPath id="clipc"><rect x="363.5" y="30.4" width="107" height="110.1"/></clipPath>
<g clip-path="url(#clipc)"><circle cx="398.5" cy="31" r="1.35" fill="#a50f15"/><circle cx="396" cy="53" r="1.35" fill="#fdd0bc"/><circle cx="389" cy="88.2" r="1.35" fill="#a50f15"/><circle cx="385.1" cy="94.8" r="1.35" fill="#a50f15"/><circle cx="387.1" cy="96.8" r="1.35" fill="#a50f15"/><circle cx="381.1" cy="99.4" r="1.35" fill="#a50f15"/><circle cx="382.4" cy="102.7" r="1.35" fill="#a50f15"/><circle cx="395" cy="94.1" r="1.35" fill="#fa6548"/><circle cx="402.2" cy="105.1" r="1.35" fill="#fdd0bc"/><circle cx="393" cy="106.7" r="1.35" fill="#fdd0bc"/><circle cx="395.6" cy="114.6" r="1.35" fill="#fdd0bc"/><circle cx="396.3" cy="126.5" r="1.35" fill="#fdd0bc"/><circle cx="369.4" cy="116.9" r="1.35" fill="#a50f15"/><circle cx="373.2" cy="116.9" r="1.35" fill="#a50f15"/><circle cx="383.1" cy="102.9" r="1.35" fill="#a50f15"/><circle cx="371.5" cy="129.3" r="1.35" fill="#a50f15"/><circle cx="369.9" cy="133.1" r="1.35" fill="#da2a25"/><circle cx="368.6" cy="137.2" r="1.35" fill="#a50f15"/><circle cx="374.4" cy="129.8" r="1.35" fill="#fa6548"/><circle cx="395.1" cy="114.9" r="1.35" fill="#fdd0bc"/><circle cx="393.4" cy="106.2" r="1.35" fill="#fdd0bc"/><circle cx="388.4" cy="116.5" r="1.35" fill="#fca083"/><circle cx="384.3" cy="121.5" r="1.35" fill="#fca083"/><circle cx="381.8" cy="130.6" r="1.35" fill="#fca083"/><circle cx="378" cy="125" r="1.35" fill="#fdd0bc"/><circle cx="380" cy="118" r="1.35" fill="#fa6548"/><circle cx="376" cy="133" r="1.35" fill="#fdd0bc"/><circle cx="385" cy="128" r="1.35" fill="#fdd0bc"/><circle cx="372" cy="124" r="1.35" fill="#fca083"/><circle cx="379" cy="137" r="1.35" fill="#fdd0bc"/><circle cx="366" cy="134" r="1.35" fill="#fca083"/><circle cx="374" cy="138" r="1.35" fill="#fa6548"/><circle cx="386" cy="110" r="1.35" fill="#fca083"/><circle cx="390" cy="124" r="1.35" fill="#fdd0bc"/><circle cx="383" cy="136" r="1.35" fill="#fdd0bc"/><circle cx="377" cy="113" r="1.35" fill="#fa6548"/><circle cx="370" cy="126" r="1.35" fill="#fdd0bc"/><circle cx="388" cy="132" r="1.35" fill="#fdd0bc"/><circle cx="375" cy="120" r="1.35" fill="#fca083"/><circle cx="381" cy="124" r="1.35" fill="#fdd0bc"/><path d="M363.7,138.8 C363.2,136.5 366.1,130.9 367,127.3 C367.9,123.7 368.2,120.2 369.4,117.4 C370.6,114.6 372.5,113.5 374.4,110.7 C376.3,107.9 379.1,103.8 381,100.8 C382.9,97.8 384.6,95.2 386,93 C387.4,90.8 389.2,87.3 389.5,87.5 C389.8,87.7 388.6,91.6 388,94 C387.4,96.4 386.8,98 386,101.7 C385.2,105.5 384.3,112.4 383.5,116.5 C382.7,120.6 382.2,122.4 381,126.4 C379.8,130.4 377.8,138.1 376,140.5 C374.2,142.9 372.1,141.3 370,141 C367.9,140.7 364.2,141.1 363.7,138.8Z" fill="none" stroke="#a50f15" stroke-width="1.265"/><path d="M365,139 C364.1,137 367.3,131.3 368.5,128 C369.7,124.7 370.4,122 372,119 C373.6,116 376,113.3 378,110 C380,106.7 382.5,101.7 384,99 C385.5,96.3 386.8,93.2 387,94 C387.2,94.8 386.3,100.2 385.5,104 C384.7,107.8 383.2,113 382,117 C380.8,121 379.8,124.2 378.5,128 C377.2,131.8 376.2,138.2 374,140 C371.8,141.8 365.9,141 365,139Z" fill="none" stroke="#a50f15" stroke-width="0.9199999999999999"/><path d="M366,140 C365.7,138.2 368.5,133.3 370,130 C371.5,126.7 373.2,123.3 375,120 C376.8,116.7 379.3,113 381,110 C382.7,107 384.5,102.3 385,102 C385.5,101.7 384.8,105 384,108 C383.2,111 381.3,116.3 380,120 C378.7,123.7 377.3,126.6 376,130 C374.7,133.4 373.7,138.8 372,140.5 C370.3,142.2 366.3,141.8 366,140Z" fill="none" stroke="#d92823" stroke-width="0.9199999999999999"/><path d="M363.8,138 C363.2,135.9 365.3,131.2 366.5,128 C367.7,124.8 369.3,121.8 371,119 C372.7,116.2 374.8,113.5 376.5,111 C378.2,108.5 379.3,106.7 381,104 C382.7,101.3 385.4,96.3 386.5,95 C387.6,93.7 387.8,94.2 387.5,96 C387.2,97.8 385.6,102.7 384.5,106 C383.4,109.3 382.2,112.7 381,116 C379.8,119.3 378.3,122.7 377,126 C375.7,129.3 374.2,133.6 373,136 C371.8,138.4 371.5,140.2 370,140.5 C368.5,140.8 364.4,140.1 363.8,138Z" fill="none" stroke="#d92823" stroke-width="1.035"/><ellipse cx="383.1" cy="108" rx="35.5" ry="2.2" transform="rotate(-58.6 383.1 108)" fill="none" stroke="#f9603f" stroke-width="1.15"/><ellipse cx="381.5" cy="111" rx="33" ry="3.5" transform="rotate(-58.6 381.5 111)" fill="none" stroke="#f9603f" stroke-width="0.9199999999999999"/><ellipse cx="380" cy="114" rx="27" ry="2.5" transform="rotate(-57 380 114)" fill="none" stroke="#f9603f" stroke-width="0.9199999999999999"/><ellipse cx="381.8" cy="120.5" rx="23" ry="4.2" transform="rotate(-52 381.8 120.5)" fill="none" stroke="#fc9676" stroke-width="0.9199999999999999"/><ellipse cx="383.6" cy="121.2" rx="22" ry="5.5" transform="rotate(-57 383.6 121.2)" fill="none" stroke="#fcc5ae" stroke-width="0.9199999999999999"/><ellipse cx="378" cy="126" rx="16" ry="3.5" transform="rotate(-55 378 126)" fill="none" stroke="#fc9676" stroke-width="0.9199999999999999"/><ellipse cx="386" cy="118" rx="20" ry="3.5" transform="rotate(-60 386 118)" fill="none" stroke="#fcc5ae" stroke-width="0.8049999999999999"/></g>
<rect x="363.5" y="30.4" width="107" height="110.1" fill="none" stroke="#4a4a4a" stroke-width="0.9"/>
<line x1="363.5" y1="140.5" x2="363.5" y2="142.7" stroke="#4a4a4a" stroke-width="0.7"/>
<text x="363.5" y="149.5" text-anchor="middle" font-size="8.3" textLength="4.35" lengthAdjust="spacingAndGlyphs">0</text>
<line x1="384.9" y1="140.5" x2="384.9" y2="142.7" stroke="#4a4a4a" stroke-width="0.7"/>
<text x="384.9" y="149.5" text-anchor="middle" font-size="8.3" textLength="9.2" lengthAdjust="spacingAndGlyphs">50</text>
<line x1="406.3" y1="140.5" x2="406.3" y2="142.7" stroke="#4a4a4a" stroke-width="0.7"/>
<text x="406.3" y="149.5" text-anchor="middle" font-size="8.3" textLength="13.45" lengthAdjust="spacingAndGlyphs">100</text>
<line x1="427.7" y1="140.5" x2="427.7" y2="142.7" stroke="#4a4a4a" stroke-width="0.7"/>
<text x="427.7" y="149.5" text-anchor="middle" font-size="8.3" textLength="13.45" lengthAdjust="spacingAndGlyphs">150</text>
<line x1="449.1" y1="140.5" x2="449.1" y2="142.7" stroke="#4a4a4a" stroke-width="0.7"/>
<text x="449.1" y="149.5" text-anchor="middle" font-size="8.3" textLength="13.45" lengthAdjust="spacingAndGlyphs">200</text>
<line x1="470.5" y1="140.5" x2="470.5" y2="142.7" stroke="#4a4a4a" stroke-width="0.7"/>
<text x="470.5" y="149.5" text-anchor="middle" font-size="8.3" textLength="13.45" lengthAdjust="spacingAndGlyphs">250</text>
<line x1="361.3" y1="140.5" x2="363.5" y2="140.5" stroke="#4a4a4a" stroke-width="0.7"/>
<text x="360.1" y="143.1" text-anchor="end" font-size="8.3" textLength="4.35" lengthAdjust="spacingAndGlyphs">0</text>
<line x1="361.3" y1="118.48" x2="363.5" y2="118.48" stroke="#4a4a4a" stroke-width="0.7"/>
<text x="360.1" y="121.08" text-anchor="end" font-size="8.3" textLength="9.2" lengthAdjust="spacingAndGlyphs">50</text>
<line x1="361.3" y1="96.46" x2="363.5" y2="96.46" stroke="#4a4a4a" stroke-width="0.7"/>
<text x="360.1" y="99.06" text-anchor="end" font-size="8.3" textLength="13.45" lengthAdjust="spacingAndGlyphs">100</text>
<line x1="361.3" y1="74.44" x2="363.5" y2="74.44" stroke="#4a4a4a" stroke-width="0.7"/>
<text x="360.1" y="77.04" text-anchor="end" font-size="8.3" textLength="13.45" lengthAdjust="spacingAndGlyphs">150</text>
<line x1="361.3" y1="52.42" x2="363.5" y2="52.42" stroke="#4a4a4a" stroke-width="0.7"/>
<text x="360.1" y="55.02" text-anchor="end" font-size="8.3" textLength="13.45" lengthAdjust="spacingAndGlyphs">200</text>
<line x1="361.3" y1="30.4" x2="363.5" y2="30.4" stroke="#4a4a4a" stroke-width="0.7"/>
<text x="360.1" y="33" text-anchor="end" font-size="8.3" textLength="13.45" lengthAdjust="spacingAndGlyphs">250</text>
<text x="417" y="160.5" text-anchor="middle" font-size="9.2" textLength="45" lengthAdjust="spacingAndGlyphs">Area [<tspan font-style="italic">m</tspan><tspan dy="-3" font-size="6.5">2</tspan><tspan dy="3">]</tspan></text>
<text transform="translate(342.7,85.45) rotate(-90)" x="0" y="0" text-anchor="middle" font-size="9.2" textLength="58" lengthAdjust="spacingAndGlyphs">Volume [<tspan font-style="italic">m</tspan><tspan dy="-3" font-size="6.5">3</tspan><tspan dy="3">]</tspan></text>
<text x="333" y="13" font-size="9.6" fill="#000">c)</text>
<line x1="365.5" y1="7.2" x2="371.2" y2="7.2" stroke="#4a4a4a" stroke-width="0.7"/>
<line x1="384.5" y1="7.2" x2="402.5" y2="7.2" stroke="#4a4a4a" stroke-width="0.7"/>
<line x1="365.5" y1="6.2" x2="365.5" y2="8.2" stroke="#4a4a4a" stroke-width="0.7"/>
<line x1="402.5" y1="6.2" x2="402.5" y2="8.2" stroke="#4a4a4a" stroke-width="0.7"/>
<polygon points="371.2,5.2 371.2,5.2 378,6.2 384.5,5.2 384.5,5.2 384.5,9.2 384.5,9.2 378,8.2 371.2,9.2 371.2,9.2" fill="#fcd5c5" stroke="#3a3a3a" stroke-width="0.7"/>
<line x1="378" y1="6.2" x2="378" y2="8.2" stroke="#3a3a3a" stroke-width="0.6"/>
<line x1="367.5" y1="12" x2="370.5" y2="12" stroke="#c8c8c8" stroke-width="1.3"/>
<line x1="385.5" y1="12" x2="393" y2="12" stroke="#c8c8c8" stroke-width="1.3"/>
<line x1="367.5" y1="11" x2="367.5" y2="13" stroke="#c8c8c8" stroke-width="0.7"/>
<line x1="393" y1="11" x2="393" y2="13" stroke="#c8c8c8" stroke-width="0.7"/>
<polygon points="370.5,10 371,10 378,11 385,10 385.5,10 385.5,14 385,14 378,13 371,14 370.5,14" fill="#f5a88e" stroke="#3a3a3a" stroke-width="0.7"/>
<line x1="378" y1="11" x2="378" y2="13" stroke="#3a3a3a" stroke-width="0.6"/>
<line x1="366" y1="16.4" x2="371.8" y2="16.4" stroke="#4a4a4a" stroke-width="0.7"/>
<line x1="378.5" y1="16.4" x2="382.5" y2="16.4" stroke="#4a4a4a" stroke-width="0.7"/>
<line x1="366" y1="15.4" x2="366" y2="17.4" stroke="#4a4a4a" stroke-width="0.7"/>
<line x1="382.5" y1="15.4" x2="382.5" y2="17.4" stroke="#4a4a4a" stroke-width="0.7"/>
<polygon points="371.8,14.4 371.8,14.4 375,15.4 378.5,14.4 378.5,14.4 378.5,18.4 378.5,18.4 375,17.4 371.8,18.4 371.8,18.4" fill="#ee6f55" stroke="#3a3a3a" stroke-width="0.7"/>
<line x1="375" y1="15.4" x2="375" y2="17.4" stroke="#3a3a3a" stroke-width="0.6"/>
<line x1="366.5" y1="20.8" x2="370" y2="20.8" stroke="#4a4a4a" stroke-width="0.7"/>
<line x1="377" y1="20.8" x2="387.5" y2="20.8" stroke="#4a4a4a" stroke-width="0.7"/>
<line x1="366.5" y1="19.8" x2="366.5" y2="21.8" stroke="#4a4a4a" stroke-width="0.7"/>
<line x1="387.5" y1="19.8" x2="387.5" y2="21.8" stroke="#4a4a4a" stroke-width="0.7"/>
<polygon points="370,18.5 370,18.5 373,19.65 377,18.5 377,18.5 377,23.1 377,23.1 373,21.95 370,23.1 370,23.1" fill="#d5332e" stroke="#3a3a3a" stroke-width="0.7"/>
<line x1="373" y1="19.65" x2="373" y2="21.95" stroke="#3a3a3a" stroke-width="0.6"/>
<line x1="366.5" y1="25.2" x2="369.5" y2="25.2" stroke="#4a4a4a" stroke-width="0.7"/>
<line x1="377" y1="25.2" x2="387" y2="25.2" stroke="#4a4a4a" stroke-width="0.7"/>
<line x1="366.5" y1="24.2" x2="366.5" y2="26.2" stroke="#4a4a4a" stroke-width="0.7"/>
<line x1="387" y1="24.2" x2="387" y2="26.2" stroke="#4a4a4a" stroke-width="0.7"/>
<polygon points="369.5,22.9 369.5,22.9 373,24.05 377,22.9 377,22.9 377,27.5 377,27.5 373,26.35 369.5,27.5 369.5,27.5" fill="#a8161c" stroke="#3a3a3a" stroke-width="0.7"/>
<line x1="373" y1="24.05" x2="373" y2="26.35" stroke="#3a3a3a" stroke-width="0.6"/>
<line x1="475.5" y1="105.3" x2="475.5" y2="121.5" stroke="#4a4a4a" stroke-width="0.7"/>
<line x1="475.5" y1="135.6" x2="475.5" y2="138.3" stroke="#4a4a4a" stroke-width="0.7"/>
<line x1="474.5" y1="105.3" x2="476.5" y2="105.3" stroke="#4a4a4a" stroke-width="0.7"/>
<line x1="474.5" y1="138.3" x2="476.5" y2="138.3" stroke="#4a4a4a" stroke-width="0.7"/>
<polygon points="473.5,121.5 473.5,123.8 474.5,127.7 473.5,131.5 473.5,135.6 477.5,135.6 477.5,131.5 476.5,127.7 477.5,123.8 477.5,121.5" fill="#fcd5c5" stroke="#3a3a3a" stroke-width="0.7"/>
<line x1="474.5" y1="127.7" x2="476.5" y2="127.7" stroke="#3a3a3a" stroke-width="0.6"/>
<line x1="479.6" y1="106.4" x2="479.6" y2="118.5" stroke="#4a4a4a" stroke-width="0.7"/>
<line x1="479.6" y1="135" x2="479.6" y2="138.3" stroke="#4a4a4a" stroke-width="0.7"/>
<line x1="478.6" y1="106.4" x2="480.6" y2="106.4" stroke="#4a4a4a" stroke-width="0.7"/>
<line x1="478.6" y1="138.3" x2="480.6" y2="138.3" stroke="#4a4a4a" stroke-width="0.7"/>
<polygon points="477.6,118.5 477.6,126 478.6,131.2 477.6,135 477.6,135 481.6,135 481.6,135 480.6,131.2 481.6,126 481.6,118.5" fill="#f5a88e" stroke="#3a3a3a" stroke-width="0.7"/>
<line x1="478.6" y1="131.2" x2="480.6" y2="131.2" stroke="#3a3a3a" stroke-width="0.6"/>
<line x1="484.3" y1="118.2" x2="484.3" y2="128" stroke="#c8c8c8" stroke-width="1.3"/>
<line x1="484.3" y1="134.2" x2="484.3" y2="139.5" stroke="#c8c8c8" stroke-width="1.3"/>
<line x1="483.3" y1="118.2" x2="485.3" y2="118.2" stroke="#c8c8c8" stroke-width="0.7"/>
<line x1="483.3" y1="139.5" x2="485.3" y2="139.5" stroke="#c8c8c8" stroke-width="0.7"/>
<polygon points="482.3,128 482.3,128 483.3,131.2 482.3,134.2 482.3,134.2 486.3,134.2 486.3,134.2 485.3,131.2 486.3,128 486.3,128" fill="#ee6f55" stroke="#3a3a3a" stroke-width="0.7"/>
<line x1="483.3" y1="131.2" x2="485.3" y2="131.2" stroke="#3a3a3a" stroke-width="0.6"/>
<line x1="488.6" y1="128" x2="488.6" y2="128" stroke="#4a4a4a" stroke-width="0.7"/>
<line x1="488.6" y1="133.6" x2="488.6" y2="139.5" stroke="#4a4a4a" stroke-width="0.7"/>
<line x1="487.6" y1="128" x2="489.6" y2="128" stroke="#4a4a4a" stroke-width="0.7"/>
<line x1="487.6" y1="139.5" x2="489.6" y2="139.5" stroke="#4a4a4a" stroke-width="0.7"/>
<polygon points="486.6,128 486.6,128 487.6,131.3 486.6,133.6 486.6,133.6 490.6,133.6 490.6,133.6 489.6,131.3 490.6,128 490.6,128" fill="#d5332e" stroke="#3a3a3a" stroke-width="0.7"/>
<line x1="487.6" y1="131.3" x2="489.6" y2="131.3" stroke="#3a3a3a" stroke-width="0.6"/>
<line x1="492.9" y1="96" x2="492.9" y2="118.5" stroke="#4a4a4a" stroke-width="0.7"/>
<line x1="492.9" y1="134.75" x2="492.9" y2="139.5" stroke="#4a4a4a" stroke-width="0.7"/>
<line x1="491.9" y1="96" x2="493.9" y2="96" stroke="#4a4a4a" stroke-width="0.7"/>
<line x1="491.9" y1="139.5" x2="493.9" y2="139.5" stroke="#4a4a4a" stroke-width="0.7"/>
<polygon points="490.9,118.5 490.9,126 491.9,130.3 490.9,134.75 490.9,134.75 494.9,134.75 494.9,134.75 493.9,130.3 494.9,126 494.9,118.5" fill="#a8161c" stroke="#3a3a3a" stroke-width="0.7"/>
<line x1="491.9" y1="130.3" x2="493.9" y2="130.3" stroke="#3a3a3a" stroke-width="0.6"/>
</g>
<g id="pd">
<clipPath id="clipd"><rect x="35.4" y="201" width="107" height="110.1"/></clipPath>
<g clip-path="url(#clipd)"><circle cx="38.5" cy="225" r="1.35" fill="#a50f15"/><circle cx="35.5" cy="243.5" r="1.35" fill="#da2a25"/><circle cx="36" cy="262" r="1.35" fill="#da2a25"/><circle cx="36" cy="254" r="1.35" fill="#fdd0bc"/><circle cx="35.8" cy="258.6" r="1.35" fill="#da2a25"/><circle cx="40" cy="261.6" r="1.35" fill="#a50f15"/><circle cx="36.4" cy="267.6" r="1.35" fill="#da2a25"/><circle cx="36.6" cy="270.6" r="1.35" fill="#a50f15"/><circle cx="45.4" cy="269.4" r="1.35" fill="#da2a25"/><circle cx="40" cy="274.2" r="1.35" fill="#a50f15"/><circle cx="37.6" cy="276.6" r="1.35" fill="#fa6548"/><circle cx="46" cy="275.4" r="1.35" fill="#fdd0bc"/><circle cx="44.2" cy="278.4" r="1.35" fill="#fca083"/><circle cx="36.4" cy="283.2" r="1.35" fill="#fa6548"/><circle cx="38.2" cy="282" r="1.35" fill="#a50f15"/><circle cx="41.8" cy="283.2" r="1.35" fill="#fca083"/><circle cx="38.8" cy="285.6" r="1.35" fill="#fca083"/><circle cx="43" cy="286.8" r="1.35" fill="#da2a25"/><circle cx="46" cy="286.8" r="1.35" fill="#da2a25"/><circle cx="43" cy="289.2" r="1.35" fill="#a50f15"/><circle cx="45.4" cy="289.8" r="1.35" fill="#da2a25"/><circle cx="37.6" cy="291" r="1.35" fill="#da2a25"/><circle cx="43" cy="291.6" r="1.35" fill="#a50f15"/><circle cx="49" cy="291" r="1.35" fill="#a50f15"/><circle cx="52" cy="290.4" r="1.35" fill="#a50f15"/><circle cx="53.2" cy="292.2" r="1.35" fill="#da2a25"/><circle cx="46" cy="293.4" r="1.35" fill="#fa6548"/><circle cx="38.8" cy="294.6" r="1.35" fill="#da2a25"/><circle cx="44.8" cy="295.8" r="1.35" fill="#da2a25"/><circle cx="49.6" cy="294.6" r="1.35" fill="#fdd0bc"/><circle cx="53.2" cy="296.4" r="1.35" fill="#fca083"/><circle cx="58" cy="296.4" r="1.35" fill="#a50f15"/><circle cx="59.2" cy="289.2" r="1.35" fill="#fa6548"/><circle cx="62.8" cy="291" r="1.35" fill="#fdd0bc"/><circle cx="65.8" cy="289.2" r="1.35" fill="#fca083"/><circle cx="71.2" cy="289.8" r="1.35" fill="#fdd0bc"/><circle cx="74.2" cy="291" r="1.35" fill="#fdd0bc"/><circle cx="45.4" cy="298.2" r="1.35" fill="#da2a25"/><circle cx="41.2" cy="300" r="1.35" fill="#a50f15"/><circle cx="37" cy="299.4" r="1.35" fill="#da2a25"/><circle cx="50.2" cy="298.2" r="1.35" fill="#fca083"/><circle cx="56.2" cy="300" r="1.35" fill="#fca083"/><circle cx="46" cy="301.2" r="1.35" fill="#fa6548"/><circle cx="49.6" cy="302.4" r="1.35" fill="#fdd0bc"/><circle cx="37.6" cy="303" r="1.35" fill="#fa6548"/><circle cx="60.4" cy="298.2" r="1.35" fill="#fdd0bc"/><circle cx="64.6" cy="303" r="1.35" fill="#fdd0bc"/><circle cx="62.2" cy="303.6" r="1.35" fill="#fdd0bc"/><circle cx="70.6" cy="298.8" r="1.35" fill="#fa6548"/><circle cx="73.6" cy="276.6" r="1.35" fill="#fa6548"/><circle cx="79" cy="288" r="1.35" fill="#a50f15"/><circle cx="82" cy="298.2" r="1.35" fill="#a50f15"/><circle cx="83.2" cy="301.8" r="1.35" fill="#a50f15"/><circle cx="86.8" cy="300" r="1.35" fill="#fdd0bc"/><circle cx="89.8" cy="291.6" r="1.35" fill="#fa6548"/><circle cx="92.8" cy="292.2" r="1.35" fill="#fca083"/><circle cx="91.6" cy="294.6" r="1.35" fill="#fdd0bc"/><circle cx="100.8" cy="286.6" r="1.35" fill="#fca083"/><circle cx="111" cy="287" r="1.35" fill="#fa6548"/><circle cx="120" cy="293.2" r="1.35" fill="#fa6548"/><circle cx="90" cy="292" r="1.35" fill="#fa6548"/><circle cx="93" cy="292.6" r="1.35" fill="#fa6548"/><circle cx="91.2" cy="294.4" r="1.35" fill="#fa6548"/><circle cx="94.8" cy="299.8" r="1.35" fill="#fca083"/><circle cx="109.8" cy="300.4" r="1.35" fill="#fdd0bc"/><circle cx="86.4" cy="301" r="1.35" fill="#fdd0bc"/><circle cx="85.2" cy="303.4" r="1.35" fill="#da2a25"/><circle cx="40" cy="306" r="1.35" fill="#fdd0bc"/><circle cx="47" cy="307" r="1.35" fill="#fca083"/><circle cx="55" cy="305" r="1.35" fill="#fdd0bc"/><circle cx="38" cy="309" r="1.35" fill="#fa6548"/><circle cx="52" cy="309" r="1.35" fill="#fdd0bc"/><circle cx="66" cy="307" r="1.35" fill="#fca083"/><circle cx="46.8" cy="300.4" r="1.35" fill="#fca083"/><circle cx="41.1" cy="276.1" r="1.35" fill="#da2a25"/><circle cx="50" cy="285.3" r="1.35" fill="#fca083"/><circle cx="41.7" cy="289.3" r="1.35" fill="#a50f15"/><circle cx="46.6" cy="282.5" r="1.35" fill="#da2a25"/><circle cx="37.8" cy="286.4" r="1.35" fill="#fa6548"/><circle cx="51" cy="297.6" r="1.35" fill="#fa6548"/><circle cx="46.9" cy="284.4" r="1.35" fill="#fdd0bc"/><circle cx="47.9" cy="306.5" r="1.35" fill="#da2a25"/><circle cx="50.7" cy="287.1" r="1.35" fill="#fdd0bc"/><circle cx="41.2" cy="276.5" r="1.35" fill="#fa6548"/><circle cx="44.3" cy="315.7" r="1.35" fill="#fa6548"/><circle cx="53.8" cy="302.3" r="1.35" fill="#fdd0bc"/><circle cx="41.3" cy="275" r="1.35" fill="#a50f15"/><circle cx="32.8" cy="298.1" r="1.35" fill="#a50f15"/><circle cx="41.2" cy="287.9" r="1.35" fill="#fca083"/><circle cx="58" cy="298.9" r="1.35" fill="#da2a25"/><circle cx="40.2" cy="296.6" r="1.35" fill="#da2a25"/><circle cx="48.5" cy="311.5" r="1.35" fill="#fa6548"/><circle cx="35.1" cy="294.6" r="1.35" fill="#a50f15"/><circle cx="47.9" cy="269.7" r="1.35" fill="#fdd0bc"/><circle cx="39.8" cy="290.5" r="1.35" fill="#fca083"/><circle cx="37.2" cy="282.2" r="1.35" fill="#a50f15"/><circle cx="48.7" cy="297.4" r="1.35" fill="#a50f15"/><circle cx="49.6" cy="285.1" r="1.35" fill="#a50f15"/><path d="M25,288 C26,281.7 31.9,269.8 35.8,266.4 C39.7,263 44.1,266.3 48.4,267.6 C52.7,268.9 57.4,271.7 61.6,274.2 C65.8,276.7 70.6,279.8 73.6,282.6 C76.6,285.4 78.8,288 79.6,291 C80.4,294 80,298 78.4,300.6 C76.8,303.2 73.4,305.3 70,306.6 C66.6,307.9 62.4,308.2 58,308.4 C53.6,308.6 48.3,308.5 43.6,307.8 C38.9,307.1 33.1,307.3 30,304 C26.9,300.7 24,294.3 25,288Z" fill="none" stroke="#a50f15" stroke-width="1.035"/><path d="M28,282 C29,276 32.8,265.1 35.8,262.2 C38.8,259.3 43.5,263.6 46,264.6 C48.5,265.6 50.2,266.4 50.8,268.2 C51.4,270 49.6,273.2 49.6,275.4 C49.6,277.6 49,279.4 50.8,281.4 C52.6,283.4 57.8,285.2 60.4,287.4 C63,289.6 65.6,292.4 66.4,294.6 C67.2,296.8 67.6,299 65.2,300.6 C62.8,302.2 56.4,303.8 52,304.2 C47.6,304.6 42.5,304 38.8,303 C35.1,302 31.8,301.5 30,298 C28.2,294.5 27,288 28,282Z" fill="none" stroke="#d92823" stroke-width="1.035"/><path d="M71.2,297 C71.8,295.8 74.8,293.8 77.2,293.4 C79.6,293 83.2,293.4 85.6,294.6 C88,295.8 90.8,298.8 91.6,300.6 C92.4,302.4 92,304.7 90.4,305.4 C88.8,306.1 84.8,305.6 82,304.8 C79.2,304 75.4,301.9 73.6,300.6 C71.8,299.3 70.6,298.2 71.2,297Z" fill="none" stroke="#d92823" stroke-width="1.035"/><path d="M28,294 C28,289.6 27.9,282.4 36.2,280.8 C44.5,279.2 67.2,283.3 78,284.1 C88.8,284.9 94.8,285 100.8,285.4 C106.8,285.8 110.4,285.8 114,286.6 C117.6,287.4 120.9,289.2 122.4,290.2 C123.9,291.2 123.8,291.6 123,292.6 C122.2,293.6 121.1,294.8 117.6,296.2 C114.1,297.6 106.6,299.6 102,301 C97.4,302.4 94,303.8 90,304.6 C86,305.5 83.7,305.5 78,306.1 C72.3,306.7 63,308.1 56,308.3 C49,308.5 40.9,309.9 36.2,307.5 C31.5,305.1 28,298.4 28,294Z" fill="none" stroke="#f9603f" stroke-width="1.035"/><path d="M28,296 C28,292.6 27.9,288.6 36.2,287.4 C44.5,286.1 67,288.2 78,288.5 C89,288.8 96.2,287.8 102,289 C107.8,290.2 110.2,294 112.8,295.6 C115.4,297.2 117,297.5 117.6,298.6 C118.2,299.7 118,301 116.4,302.2 C114.8,303.4 111.4,304.9 108,305.8 C104.6,306.7 100,307.5 96,307.6 C92,307.7 90.7,306.6 84,306.5 C77.3,306.4 64,306.8 56,307 C48,307.2 40.7,309.3 36,307.5 C31.3,305.7 28,299.4 28,296Z" fill="none" stroke="#fcc5ae" stroke-width="0.9199999999999999"/><path d="M49.6,275.4 C49.3,273.5 51.2,273.5 53.2,273.6 C55.2,273.7 59.4,274.7 61.6,276 C63.8,277.3 63.3,279.7 66.4,281.4 C69.5,283.1 74.5,284.8 80,286 C85.5,287.2 95.9,287.1 99.6,288.4 C103.3,289.7 101.5,292.2 102,293.8 C102.5,295.4 103.6,297 102.6,298 C101.6,299 99.8,300.2 96,300 C92.2,299.8 85.2,298.3 80,297 C74.8,295.7 69.2,294 65,292 C60.8,290 57.6,287.8 55,285 C52.4,282.2 49.9,277.3 49.6,275.4Z" fill="none" stroke="#fc9676" stroke-width="0.9199999999999999"/><path d="M35.5,309.5 C39.6,309.5 50.9,309.8 60,309.5 C69.1,309.2 81.7,308.9 90,308 C98.3,307.1 106.7,304.7 110,304" fill="none" stroke="#fc9676" stroke-width="0.9199999999999999"/></g>
<rect x="35.4" y="201" width="107" height="110.1" fill="none" stroke="#4a4a4a" stroke-width="0.9"/>
<line x1="35.4" y1="311.1" x2="35.4" y2="313.3" stroke="#4a4a4a" stroke-width="0.7"/>
<text x="35.4" y="320.1" text-anchor="middle" font-size="8.3" textLength="4.35" lengthAdjust="spacingAndGlyphs">0</text>
<line x1="56.8" y1="311.1" x2="56.8" y2="313.3" stroke="#4a4a4a" stroke-width="0.7"/>
<text x="56.8" y="320.1" text-anchor="middle" font-size="8.3" textLength="9.2" lengthAdjust="spacingAndGlyphs">10</text>
<line x1="78.2" y1="311.1" x2="78.2" y2="313.3" stroke="#4a4a4a" stroke-width="0.7"/>
<text x="78.2" y="320.1" text-anchor="middle" font-size="8.3" textLength="9.2" lengthAdjust="spacingAndGlyphs">20</text>
<line x1="99.6" y1="311.1" x2="99.6" y2="313.3" stroke="#4a4a4a" stroke-width="0.7"/>
<text x="99.6" y="320.1" text-anchor="middle" font-size="8.3" textLength="9.2" lengthAdjust="spacingAndGlyphs">30</text>
<line x1="121" y1="311.1" x2="121" y2="313.3" stroke="#4a4a4a" stroke-width="0.7"/>
<text x="121" y="320.1" text-anchor="middle" font-size="8.3" textLength="9.2" lengthAdjust="spacingAndGlyphs">40</text>
<line x1="142.4" y1="311.1" x2="142.4" y2="313.3" stroke="#4a4a4a" stroke-width="0.7"/>
<text x="142.4" y="320.1" text-anchor="middle" font-size="8.3" textLength="9.2" lengthAdjust="spacingAndGlyphs">50</text>
<line x1="33.2" y1="311.1" x2="35.4" y2="311.1" stroke="#4a4a4a" stroke-width="0.7"/>
<text x="32" y="313.7" text-anchor="end" font-size="8.3" textLength="4.35" lengthAdjust="spacingAndGlyphs">0</text>
<line x1="33.2" y1="289.08" x2="35.4" y2="289.08" stroke="#4a4a4a" stroke-width="0.7"/>
<text x="32" y="291.68" text-anchor="end" font-size="8.3" textLength="4.35" lengthAdjust="spacingAndGlyphs">1</text>
<line x1="33.2" y1="267.06" x2="35.4" y2="267.06" stroke="#4a4a4a" stroke-width="0.7"/>
<text x="32" y="269.66" text-anchor="end" font-size="8.3" textLength="4.35" lengthAdjust="spacingAndGlyphs">2</text>
<line x1="33.2" y1="245.04" x2="35.4" y2="245.04" stroke="#4a4a4a" stroke-width="0.7"/>
<text x="32" y="247.64" text-anchor="end" font-size="8.3" textLength="4.35" lengthAdjust="spacingAndGlyphs">3</text>
<line x1="33.2" y1="223.02" x2="35.4" y2="223.02" stroke="#4a4a4a" stroke-width="0.7"/>
<text x="32" y="225.62" text-anchor="end" font-size="8.3" textLength="4.35" lengthAdjust="spacingAndGlyphs">4</text>
<line x1="33.2" y1="201" x2="35.4" y2="201" stroke="#4a4a4a" stroke-width="0.7"/>
<text x="32" y="203.6" text-anchor="end" font-size="8.3" textLength="4.35" lengthAdjust="spacingAndGlyphs">5</text>
<text x="88.9" y="330" text-anchor="middle" font-size="9.2" textLength="98.4" lengthAdjust="spacingAndGlyphs">Min. tree distance [m]</text>
<text transform="translate(23.5,256.05) rotate(-90)" x="0" y="0" text-anchor="middle" font-size="9.2" textLength="47" lengthAdjust="spacingAndGlyphs"><tspan font-style="italic">D</tspan><tspan dy="2.2" font-size="6.9" font-style="italic">mean</tspan><tspan dy="-2.2"> [m]</tspan></text>
<text x="4.8" y="183.6" font-size="9.6" fill="#000">d)</text>
<line x1="36" y1="177.8" x2="42.5" y2="177.8" stroke="#4a4a4a" stroke-width="0.7"/>
<line x1="75.5" y1="177.8" x2="109.8" y2="177.8" stroke="#4a4a4a" stroke-width="0.7"/>
<line x1="36" y1="176.8" x2="36" y2="178.8" stroke="#4a4a4a" stroke-width="0.7"/>
<line x1="109.8" y1="176.8" x2="109.8" y2="178.8" stroke="#4a4a4a" stroke-width="0.7"/>
<polygon points="42.5,175.8 57,175.8 62,176.8 67.5,175.8 75.5,175.8 75.5,179.8 67.5,179.8 62,178.8 57,179.8 42.5,179.8" fill="#fcd5c5" stroke="#3a3a3a" stroke-width="0.7"/>
<line x1="62" y1="176.8" x2="62" y2="178.8" stroke="#3a3a3a" stroke-width="0.6"/>
<line x1="36" y1="182.6" x2="44.2" y2="182.6" stroke="#c8c8c8" stroke-width="1.3"/>
<line x1="67.5" y1="182.6" x2="100.8" y2="182.6" stroke="#c8c8c8" stroke-width="1.3"/>
<line x1="36" y1="181.6" x2="36" y2="183.6" stroke="#c8c8c8" stroke-width="0.7"/>
<line x1="100.8" y1="181.6" x2="100.8" y2="183.6" stroke="#c8c8c8" stroke-width="0.7"/>
<polygon points="44.2,180.6 47,180.6 51.5,181.6 56,180.6 67.5,180.6 67.5,184.6 56,184.6 51.5,183.6 47,184.6 44.2,184.6" fill="#f5a88e" stroke="#3a3a3a" stroke-width="0.7"/>
<line x1="51.5" y1="181.6" x2="51.5" y2="183.6" stroke="#3a3a3a" stroke-width="0.6"/>
<line x1="36" y1="187" x2="44.5" y2="187" stroke="#4a4a4a" stroke-width="0.7"/>
<line x1="82.8" y1="187" x2="119.5" y2="187" stroke="#4a4a4a" stroke-width="0.7"/>
<line x1="36" y1="186" x2="36" y2="188" stroke="#4a4a4a" stroke-width="0.7"/>
<line x1="119.5" y1="186" x2="119.5" y2="188" stroke="#4a4a4a" stroke-width="0.7"/>
<polygon points="44.5,185 49,185 55.5,186 62,185 82.8,185 82.8,189 62,189 55.5,188 49,189 44.5,189" fill="#ee6f55" stroke="#3a3a3a" stroke-width="0.7"/>
<line x1="55.5" y1="186" x2="55.5" y2="188" stroke="#3a3a3a" stroke-width="0.6"/>
<line x1="36" y1="191.2" x2="37.5" y2="191.2" stroke="#4a4a4a" stroke-width="0.7"/>
<line x1="45.5" y1="191.2" x2="53.5" y2="191.2" stroke="#4a4a4a" stroke-width="0.7"/>
<line x1="36" y1="190.2" x2="36" y2="192.2" stroke="#4a4a4a" stroke-width="0.7"/>
<line x1="53.5" y1="190.2" x2="53.5" y2="192.2" stroke="#4a4a4a" stroke-width="0.7"/>
<polygon points="37.5,188.9 37.5,188.9 41.5,190.05 45.5,188.9 45.5,188.9 45.5,193.5 45.5,193.5 41.5,192.35 37.5,193.5 37.5,193.5" fill="#d5332e" stroke="#3a3a3a" stroke-width="0.7"/>
<line x1="41.5" y1="190.05" x2="41.5" y2="192.35" stroke="#3a3a3a" stroke-width="0.6"/>
<line x1="36" y1="195.9" x2="37" y2="195.9" stroke="#4a4a4a" stroke-width="0.7"/>
<line x1="47.8" y1="195.9" x2="57.5" y2="195.9" stroke="#4a4a4a" stroke-width="0.7"/>
<line x1="36" y1="194.9" x2="36" y2="196.9" stroke="#4a4a4a" stroke-width="0.7"/>
<line x1="57.5" y1="194.9" x2="57.5" y2="196.9" stroke="#4a4a4a" stroke-width="0.7"/>
<polygon points="37,193.6 37,193.6 41,194.75 46,193.6 47.8,193.6 47.8,198.2 46,198.2 41,197.05 37,198.2 37,198.2" fill="#a8161c" stroke="#3a3a3a" stroke-width="0.7"/>
<line x1="41" y1="194.75" x2="41" y2="197.05" stroke="#3a3a3a" stroke-width="0.6"/>
<line x1="147.4" y1="275.5" x2="147.4" y2="289.5" stroke="#4a4a4a" stroke-width="0.7"/>
<line x1="147.4" y1="299.4" x2="147.4" y2="303.5" stroke="#4a4a4a" stroke-width="0.7"/>
<line x1="146.4" y1="275.5" x2="148.4" y2="275.5" stroke="#4a4a4a" stroke-width="0.7"/>
<line x1="146.4" y1="303.5" x2="148.4" y2="303.5" stroke="#4a4a4a" stroke-width="0.7"/>
<polygon points="145.4,289.5 145.4,289.5 146.4,294.5 145.4,299.4 145.4,299.4 149.4,299.4 149.4,299.4 148.4,294.5 149.4,289.5 149.4,289.5" fill="#fcd5c5" stroke="#3a3a3a" stroke-width="0.7"/>
<line x1="146.4" y1="294.5" x2="148.4" y2="294.5" stroke="#3a3a3a" stroke-width="0.6"/>
<line x1="151.5" y1="281.4" x2="151.5" y2="286.5" stroke="#4a4a4a" stroke-width="0.7"/>
<line x1="151.5" y1="299.4" x2="151.5" y2="303.5" stroke="#4a4a4a" stroke-width="0.7"/>
<line x1="150.5" y1="281.4" x2="152.5" y2="281.4" stroke="#4a4a4a" stroke-width="0.7"/>
<line x1="150.5" y1="303.5" x2="152.5" y2="303.5" stroke="#4a4a4a" stroke-width="0.7"/>
<polygon points="149.5,286.5 149.5,289 150.5,293.5 149.5,299.4 149.5,299.4 153.5,299.4 153.5,299.4 152.5,293.5 153.5,289 153.5,286.5" fill="#f5a88e" stroke="#3a3a3a" stroke-width="0.7"/>
<line x1="150.5" y1="293.5" x2="152.5" y2="293.5" stroke="#3a3a3a" stroke-width="0.6"/>
<line x1="156" y1="276.2" x2="156" y2="287.6" stroke="#c8c8c8" stroke-width="1.3"/>
<line x1="156" y1="296.1" x2="156" y2="303.8" stroke="#c8c8c8" stroke-width="1.3"/>
<line x1="155" y1="276.2" x2="157" y2="276.2" stroke="#c8c8c8" stroke-width="0.7"/>
<line x1="155" y1="303.8" x2="157" y2="303.8" stroke="#c8c8c8" stroke-width="0.7"/>
<polygon points="154,287.6 154,287.6 155,292 154,296.1 154,296.1 158,296.1 158,296.1 157,292 158,287.6 158,287.6" fill="#ee6f55" stroke="#3a3a3a" stroke-width="0.7"/>
<line x1="155" y1="292" x2="157" y2="292" stroke="#3a3a3a" stroke-width="0.6"/>
<line x1="160.2" y1="279.1" x2="160.2" y2="284" stroke="#4a4a4a" stroke-width="0.7"/>
<line x1="160.2" y1="292.4" x2="160.2" y2="302.8" stroke="#4a4a4a" stroke-width="0.7"/>
<line x1="159.2" y1="279.1" x2="161.2" y2="279.1" stroke="#4a4a4a" stroke-width="0.7"/>
<line x1="159.2" y1="302.8" x2="161.2" y2="302.8" stroke="#4a4a4a" stroke-width="0.7"/>
<polygon points="158.2,284 158.2,284 159.2,288 158.2,292.4 158.2,292.4 162.2,292.4 162.2,292.4 161.2,288 162.2,284 162.2,284" fill="#d5332e" stroke="#3a3a3a" stroke-width="0.7"/>
<line x1="159.2" y1="288" x2="161.2" y2="288" stroke="#3a3a3a" stroke-width="0.6"/>
<line x1="164.7" y1="258.5" x2="164.7" y2="277.2" stroke="#4a4a4a" stroke-width="0.7"/>
<line x1="164.7" y1="295.4" x2="164.7" y2="303.5" stroke="#4a4a4a" stroke-width="0.7"/>
<line x1="163.7" y1="258.5" x2="165.7" y2="258.5" stroke="#4a4a4a" stroke-width="0.7"/>
<line x1="163.7" y1="303.5" x2="165.7" y2="303.5" stroke="#4a4a4a" stroke-width="0.7"/>
<polygon points="162.7,277.2 162.7,280 163.7,286 162.7,292 162.7,295.4 166.7,295.4 166.7,292 165.7,286 166.7,280 166.7,277.2" fill="#a8161c" stroke="#3a3a3a" stroke-width="0.7"/>
<line x1="163.7" y1="286" x2="165.7" y2="286" stroke="#3a3a3a" stroke-width="0.6"/>
</g>
<g id="pe">
<clipPath id="clipe"><rect x="199.6" y="201" width="107" height="110.1"/></clipPath>
<g clip-path="url(#clipe)"><circle cx="200.2" cy="220" r="1.35" fill="#da2a25"/><circle cx="203.6" cy="245.6" r="1.35" fill="#a50f15"/><circle cx="209.1" cy="252.2" r="1.35" fill="#da2a25"/><circle cx="200.2" cy="256.7" r="1.35" fill="#a50f15"/><circle cx="202.4" cy="260" r="1.35" fill="#fa6548"/><circle cx="204.7" cy="263.3" r="1.35" fill="#fdd0bc"/><circle cx="208" cy="264.4" r="1.35" fill="#fdd0bc"/><circle cx="200.2" cy="271.1" r="1.35" fill="#fa6548"/><circle cx="202.4" cy="273.3" r="1.35" fill="#fa6548"/><circle cx="213.6" cy="271.1" r="1.35" fill="#a50f15"/><circle cx="214.7" cy="273.3" r="1.35" fill="#a50f15"/><circle cx="206.9" cy="275.6" r="1.35" fill="#fdd0bc"/><circle cx="202.4" cy="278.9" r="1.35" fill="#fdd0bc"/><circle cx="209.1" cy="280" r="1.35" fill="#fdd0bc"/><circle cx="212.4" cy="281.1" r="1.35" fill="#fa6548"/><circle cx="201.3" cy="283.3" r="1.35" fill="#da2a25"/><circle cx="206.9" cy="285.6" r="1.35" fill="#a50f15"/><circle cx="211.3" cy="286.7" r="1.35" fill="#a50f15"/><circle cx="213.6" cy="284.4" r="1.35" fill="#da2a25"/><circle cx="216.9" cy="285.6" r="1.35" fill="#fa6548"/><circle cx="201.3" cy="290" r="1.35" fill="#fa6548"/><circle cx="209.1" cy="291.1" r="1.35" fill="#da2a25"/><circle cx="218" cy="291.1" r="1.35" fill="#fca083"/><circle cx="221.3" cy="291.1" r="1.35" fill="#a50f15"/><circle cx="202.4" cy="297.8" r="1.35" fill="#da2a25"/><circle cx="209.1" cy="297.8" r="1.35" fill="#a50f15"/><circle cx="213.6" cy="297.8" r="1.35" fill="#fdd0bc"/><circle cx="220.2" cy="295.6" r="1.35" fill="#fa6548"/><circle cx="225.8" cy="297.8" r="1.35" fill="#fdd0bc"/><circle cx="223.6" cy="282.2" r="1.35" fill="#fa6548"/><circle cx="229.1" cy="277.8" r="1.35" fill="#fdd0bc"/><circle cx="232.4" cy="283.3" r="1.35" fill="#fdd0bc"/><circle cx="242.4" cy="278.9" r="1.35" fill="#da2a25"/><circle cx="236.9" cy="258.9" r="1.35" fill="#fa6548"/><circle cx="264.7" cy="272.2" r="1.35" fill="#fdd0bc"/><circle cx="274.7" cy="276.7" r="1.35" fill="#fa6548"/><circle cx="283.6" cy="284.4" r="1.35" fill="#fa6548"/><circle cx="253.6" cy="284.4" r="1.35" fill="#fca083"/><circle cx="256.9" cy="286.7" r="1.35" fill="#fa6548"/><circle cx="253.6" cy="288.9" r="1.35" fill="#fa6548"/><circle cx="258" cy="294.4" r="1.35" fill="#fca083"/><circle cx="239.1" cy="293.3" r="1.35" fill="#fa6548"/><circle cx="244.7" cy="293.3" r="1.35" fill="#da2a25"/><circle cx="246.9" cy="298.9" r="1.35" fill="#a50f15"/><circle cx="250.2" cy="300" r="1.35" fill="#fca083"/><circle cx="241.3" cy="285.6" r="1.35" fill="#fdd0bc"/><circle cx="204" cy="268" r="1.35" fill="#da2a25"/><circle cx="206" cy="290" r="1.35" fill="#fca083"/><circle cx="211" cy="294" r="1.35" fill="#fdd0bc"/><circle cx="216" cy="300" r="1.35" fill="#da2a25"/><circle cx="204" cy="302" r="1.35" fill="#a50f15"/><circle cx="200.5" cy="295" r="1.35" fill="#a50f15"/><circle cx="218" cy="288" r="1.35" fill="#fdd0bc"/><circle cx="226" cy="291" r="1.35" fill="#fca083"/><circle cx="230" cy="298" r="1.35" fill="#fdd0bc"/><circle cx="211.8" cy="266.8" r="1.35" fill="#fa6548"/><circle cx="211.6" cy="256.6" r="1.35" fill="#a50f15"/><circle cx="209.6" cy="265" r="1.35" fill="#fa6548"/><circle cx="209.6" cy="272.4" r="1.35" fill="#a50f15"/><circle cx="208.3" cy="274.7" r="1.35" fill="#a50f15"/><circle cx="199.3" cy="293.4" r="1.35" fill="#fdd0bc"/><circle cx="214.2" cy="288.2" r="1.35" fill="#fca083"/><circle cx="210.8" cy="285.9" r="1.35" fill="#a50f15"/><circle cx="195.2" cy="272" r="1.35" fill="#fca083"/><circle cx="208" cy="283.3" r="1.35" fill="#a50f15"/><circle cx="205.8" cy="288.9" r="1.35" fill="#fdd0bc"/><circle cx="202.2" cy="271.9" r="1.35" fill="#fdd0bc"/><circle cx="198.7" cy="289.4" r="1.35" fill="#da2a25"/><circle cx="215.6" cy="274.2" r="1.35" fill="#fca083"/><circle cx="195.6" cy="245.6" r="1.35" fill="#da2a25"/><circle cx="198.4" cy="283.7" r="1.35" fill="#fa6548"/><circle cx="222.8" cy="293.5" r="1.35" fill="#fdd0bc"/><circle cx="211.3" cy="286.4" r="1.35" fill="#a50f15"/><circle cx="219.1" cy="293.8" r="1.35" fill="#fdd0bc"/><circle cx="205.9" cy="280" r="1.35" fill="#a50f15"/><circle cx="203.9" cy="276.6" r="1.35" fill="#da2a25"/><circle cx="203.2" cy="295" r="1.35" fill="#da2a25"/><circle cx="209.1" cy="299.7" r="1.35" fill="#fca083"/><circle cx="213.3" cy="279.5" r="1.35" fill="#a50f15"/><circle cx="211.7" cy="274.9" r="1.35" fill="#a50f15"/><circle cx="209.9" cy="281.7" r="1.35" fill="#fa6548"/><circle cx="207.6" cy="311.4" r="1.35" fill="#fa6548"/><circle cx="206.2" cy="283.3" r="1.35" fill="#fdd0bc"/><path d="M190,270 C190.9,260.2 197,245.4 200.2,241.1 C203.4,236.8 206.7,242.6 209.1,244.4 C211.5,246.2 213.8,248.9 214.7,252.2 C215.6,255.5 213.8,260.5 214.7,264.4 C215.6,268.3 217.8,271.9 220.2,275.6 C222.6,279.3 226.9,283.4 229.1,286.7 C231.3,290 233.2,292.7 233.6,295.6 C234,298.6 233.5,302.5 231.3,304.4 C229.1,306.2 224.3,306.7 220.2,306.7 C216.1,306.7 211.1,305.5 206.9,304.4 C202.7,303.3 197.8,305.7 195,300 C192.2,294.3 189.1,279.8 190,270Z" fill="none" stroke="#d92823" stroke-width="1.035"/><path d="M190,280 C190.9,270.8 195.9,254.4 200.2,250 C204.5,245.6 210.6,250.9 215.8,253.3 C221,255.7 226.5,260.3 231.3,264.4 C236.1,268.5 241.5,273.7 244.7,277.8 C247.8,281.9 249.5,285.2 250.2,288.9 C250.9,292.6 250.8,297 249.1,300 C247.4,303 244.3,305 240.2,306.7 C236.1,308.4 230.2,309.6 224.7,310 C219.1,310.4 211.8,309.7 206.9,308.9 C202,308.1 197.8,309.8 195,305 C192.2,300.2 189.1,289.2 190,280Z" fill="none" stroke="#a50f15" stroke-width="1.035"/><path d="M192,280 C192,271.7 195.5,257.2 200.2,254.4 C204.9,251.6 213.2,260.5 220.2,263.3 C227.2,266.1 235,269.4 242.4,271.1 C249.8,272.8 258,272.6 264.7,273.3 C271.4,274.1 278.5,273.9 282.4,275.6 C286.3,277.3 288,281.1 288,283.3 C288,285.5 286.3,286.8 282.4,288.9 C278.5,290.9 271.4,293.4 264.7,295.6 C258,297.8 249.8,300.7 242.4,302.2 C235,303.7 227.2,304.1 220.2,304.4 C213.2,304.7 204.9,308.1 200.2,304 C195.5,299.9 192,288.3 192,280Z" fill="none" stroke="#f9603f" stroke-width="1.035"/><path d="M190,262 C196.2,255.7 218.2,261.8 226.9,262.2 C235.6,262.6 236.1,262.9 242.4,264.4 C248.7,265.9 258.8,268.1 264.7,271.1 C270.6,274.1 275.4,278.5 278,282.2 C280.6,285.9 281.3,290 280.2,293.3 C279.1,296.6 275.7,300.2 271.3,302.2 C266.9,304.1 260.5,304.2 253.6,305 C246.7,305.8 238.1,306.7 230,307 C221.9,307.3 211.7,308.2 205,307 C198.3,305.8 192.5,307.5 190,300 C187.5,292.5 183.8,268.3 190,262Z" fill="none" stroke="#fcc5ae" stroke-width="0.9199999999999999"/><path d="M190,268 C195.3,262.3 215.7,267.5 222,268 C228.3,268.5 224.7,269.8 228,271 C231.3,272.2 236.3,274.4 242,275.5 C247.7,276.6 258,275.6 262,277.8 C266,280 266.1,285.6 265.8,288.9 C265.5,292.2 264.3,295.6 260,297.8 C255.7,300 247.5,301.1 240,302 C232.5,302.9 223.3,303 215,303 C206.7,303 194.2,307.8 190,302 C185.8,296.2 184.7,273.7 190,268Z" fill="none" stroke="#fc9676" stroke-width="0.9199999999999999"/><path d="M233.6,288.9 C234.7,286.9 239.4,285.6 242.4,285.6 C245.4,285.6 249.1,286.9 251.3,288.9 C253.5,290.9 255.4,295 255.8,297.8 C256.2,300.6 255.4,304.5 253.6,305.6 C251.8,306.7 247.7,305.7 244.7,304.4 C241.7,303.1 237.7,300.4 235.8,297.8 C234,295.2 232.5,290.9 233.6,288.9Z" fill="none" stroke="#d92823" stroke-width="1.035"/></g>
<rect x="199.6" y="201" width="107" height="110.1" fill="none" stroke="#4a4a4a" stroke-width="0.9"/>
<line x1="199.6" y1="311.1" x2="199.6" y2="313.3" stroke="#4a4a4a" stroke-width="0.7"/>
<text x="199.6" y="320.1" text-anchor="middle" font-size="8.3" textLength="4.35" lengthAdjust="spacingAndGlyphs">0</text>
<line x1="221" y1="311.1" x2="221" y2="313.3" stroke="#4a4a4a" stroke-width="0.7"/>
<text x="221" y="320.1" text-anchor="middle" font-size="8.3" textLength="9.2" lengthAdjust="spacingAndGlyphs">10</text>
<line x1="242.4" y1="311.1" x2="242.4" y2="313.3" stroke="#4a4a4a" stroke-width="0.7"/>
<text x="242.4" y="320.1" text-anchor="middle" font-size="8.3" textLength="9.2" lengthAdjust="spacingAndGlyphs">20</text>
<line x1="263.8" y1="311.1" x2="263.8" y2="313.3" stroke="#4a4a4a" stroke-width="0.7"/>
<text x="263.8" y="320.1" text-anchor="middle" font-size="8.3" textLength="9.2" lengthAdjust="spacingAndGlyphs">30</text>
<line x1="285.2" y1="311.1" x2="285.2" y2="313.3" stroke="#4a4a4a" stroke-width="0.7"/>
<text x="285.2" y="320.1" text-anchor="middle" font-size="8.3" textLength="9.2" lengthAdjust="spacingAndGlyphs">40</text>
<line x1="306.6" y1="311.1" x2="306.6" y2="313.3" stroke="#4a4a4a" stroke-width="0.7"/>
<text x="306.6" y="320.1" text-anchor="middle" font-size="8.3" textLength="9.2" lengthAdjust="spacingAndGlyphs">50</text>
<line x1="197.4" y1="311.1" x2="199.6" y2="311.1" stroke="#4a4a4a" stroke-width="0.7"/>
<text x="196.2" y="313.7" text-anchor="end" font-size="8.3" textLength="11.32" lengthAdjust="spacingAndGlyphs">0.0</text>
<line x1="197.4" y1="289.08" x2="199.6" y2="289.08" stroke="#4a4a4a" stroke-width="0.7"/>
<text x="196.2" y="291.68" text-anchor="end" font-size="8.3" textLength="11.32" lengthAdjust="spacingAndGlyphs">0.5</text>
<line x1="197.4" y1="267.06" x2="199.6" y2="267.06" stroke="#4a4a4a" stroke-width="0.7"/>
<text x="196.2" y="269.66" text-anchor="end" font-size="8.3" textLength="11.32" lengthAdjust="spacingAndGlyphs">1.0</text>
<line x1="197.4" y1="245.04" x2="199.6" y2="245.04" stroke="#4a4a4a" stroke-width="0.7"/>
<text x="196.2" y="247.64" text-anchor="end" font-size="8.3" textLength="11.32" lengthAdjust="spacingAndGlyphs">1.5</text>
<line x1="197.4" y1="223.02" x2="199.6" y2="223.02" stroke="#4a4a4a" stroke-width="0.7"/>
<text x="196.2" y="225.62" text-anchor="end" font-size="8.3" textLength="11.32" lengthAdjust="spacingAndGlyphs">2.0</text>
<line x1="197.4" y1="201" x2="199.6" y2="201" stroke="#4a4a4a" stroke-width="0.7"/>
<text x="196.2" y="203.6" text-anchor="end" font-size="8.3" textLength="11.32" lengthAdjust="spacingAndGlyphs">2.5</text>
<text x="253.1" y="330" text-anchor="middle" font-size="9.2" textLength="98.4" lengthAdjust="spacingAndGlyphs">Min. tree distance [m]</text>
<text transform="translate(180.5,256.05) rotate(-90)" x="0" y="0" text-anchor="middle" font-size="9.2" textLength="43" lengthAdjust="spacingAndGlyphs"><tspan font-style="italic">T</tspan><tspan dy="2.2" font-size="6.9" font-style="italic">mean</tspan><tspan dy="-2.2"> [m]</tspan></text>
<text x="168.9" y="183.6" font-size="9.6" fill="#000">e)</text>
<line x1="200.2" y1="177.8" x2="206.7" y2="177.8" stroke="#4a4a4a" stroke-width="0.7"/>
<line x1="239.7" y1="177.8" x2="274" y2="177.8" stroke="#4a4a4a" stroke-width="0.7"/>
<line x1="200.2" y1="176.8" x2="200.2" y2="178.8" stroke="#4a4a4a" stroke-width="0.7"/>
<line x1="274" y1="176.8" x2="274" y2="178.8" stroke="#4a4a4a" stroke-width="0.7"/>
<polygon points="206.7,175.8 221.2,175.8 226.2,176.8 231.7,175.8 239.7,175.8 239.7,179.8 231.7,179.8 226.2,178.8 221.2,179.8 206.7,179.8" fill="#fcd5c5" stroke="#3a3a3a" stroke-width="0.7"/>
<line x1="226.2" y1="176.8" x2="226.2" y2="178.8" stroke="#3a3a3a" stroke-width="0.6"/>
<line x1="200.2" y1="182.6" x2="208.4" y2="182.6" stroke="#c8c8c8" stroke-width="1.3"/>
<line x1="231.7" y1="182.6" x2="265" y2="182.6" stroke="#c8c8c8" stroke-width="1.3"/>
<line x1="200.2" y1="181.6" x2="200.2" y2="183.6" stroke="#c8c8c8" stroke-width="0.7"/>
<line x1="265" y1="181.6" x2="265" y2="183.6" stroke="#c8c8c8" stroke-width="0.7"/>
<polygon points="208.4,180.6 211.2,180.6 215.7,181.6 220.2,180.6 231.7,180.6 231.7,184.6 220.2,184.6 215.7,183.6 211.2,184.6 208.4,184.6" fill="#f5a88e" stroke="#3a3a3a" stroke-width="0.7"/>
<line x1="215.7" y1="181.6" x2="215.7" y2="183.6" stroke="#3a3a3a" stroke-width="0.6"/>
<line x1="200.2" y1="187" x2="208.7" y2="187" stroke="#4a4a4a" stroke-width="0.7"/>
<line x1="247" y1="187" x2="283.7" y2="187" stroke="#4a4a4a" stroke-width="0.7"/>
<line x1="200.2" y1="186" x2="200.2" y2="188" stroke="#4a4a4a" stroke-width="0.7"/>
<line x1="283.7" y1="186" x2="283.7" y2="188" stroke="#4a4a4a" stroke-width="0.7"/>
<polygon points="208.7,185 213.2,185 219.7,186 226.2,185 247,185 247,189 226.2,189 219.7,188 213.2,189 208.7,189" fill="#ee6f55" stroke="#3a3a3a" stroke-width="0.7"/>
<line x1="219.7" y1="186" x2="219.7" y2="188" stroke="#3a3a3a" stroke-width="0.6"/>
<line x1="200.2" y1="191.2" x2="201.7" y2="191.2" stroke="#4a4a4a" stroke-width="0.7"/>
<line x1="209.7" y1="191.2" x2="217.7" y2="191.2" stroke="#4a4a4a" stroke-width="0.7"/>
<line x1="200.2" y1="190.2" x2="200.2" y2="192.2" stroke="#4a4a4a" stroke-width="0.7"/>
<line x1="217.7" y1="190.2" x2="217.7" y2="192.2" stroke="#4a4a4a" stroke-width="0.7"/>
<polygon points="201.7,188.9 201.7,188.9 205.7,190.05 209.7,188.9 209.7,188.9 209.7,193.5 209.7,193.5 205.7,192.35 201.7,193.5 201.7,193.5" fill="#d5332e" stroke="#3a3a3a" stroke-width="0.7"/>
<line x1="205.7" y1="190.05" x2="205.7" y2="192.35" stroke="#3a3a3a" stroke-width="0.6"/>
<line x1="200.2" y1="195.9" x2="201.2" y2="195.9" stroke="#4a4a4a" stroke-width="0.7"/>
<line x1="212" y1="195.9" x2="221.7" y2="195.9" stroke="#4a4a4a" stroke-width="0.7"/>
<line x1="200.2" y1="194.9" x2="200.2" y2="196.9" stroke="#4a4a4a" stroke-width="0.7"/>
<line x1="221.7" y1="194.9" x2="221.7" y2="196.9" stroke="#4a4a4a" stroke-width="0.7"/>
<polygon points="201.2,193.6 201.2,193.6 205.2,194.75 210.2,193.6 212,193.6 212,198.2 210.2,198.2 205.2,197.05 201.2,198.2 201.2,198.2" fill="#a8161c" stroke="#3a3a3a" stroke-width="0.7"/>
<line x1="205.2" y1="194.75" x2="205.2" y2="197.05" stroke="#3a3a3a" stroke-width="0.6"/>
<line x1="311.1" y1="250.1" x2="311.1" y2="275.6" stroke="#4a4a4a" stroke-width="0.7"/>
<line x1="311.1" y1="293.7" x2="311.1" y2="297.5" stroke="#4a4a4a" stroke-width="0.7"/>
<line x1="310.1" y1="250.1" x2="312.1" y2="250.1" stroke="#4a4a4a" stroke-width="0.7"/>
<line x1="310.1" y1="297.5" x2="312.1" y2="297.5" stroke="#4a4a4a" stroke-width="0.7"/>
<polygon points="309.1,275.6 309.1,279 310.1,284.5 309.1,290 309.1,293.7 313.1,293.7 313.1,290 312.1,284.5 313.1,279 313.1,275.6" fill="#fcd5c5" stroke="#3a3a3a" stroke-width="0.7"/>
<line x1="310.1" y1="284.5" x2="312.1" y2="284.5" stroke="#3a3a3a" stroke-width="0.6"/>
<line x1="315.6" y1="266.1" x2="315.6" y2="275.2" stroke="#4a4a4a" stroke-width="0.7"/>
<line x1="315.6" y1="293.7" x2="315.6" y2="298.2" stroke="#4a4a4a" stroke-width="0.7"/>
<line x1="314.6" y1="266.1" x2="316.6" y2="266.1" stroke="#4a4a4a" stroke-width="0.7"/>
<line x1="314.6" y1="298.2" x2="316.6" y2="298.2" stroke="#4a4a4a" stroke-width="0.7"/>
<polygon points="313.6,275.2 313.6,279 314.6,284.5 313.6,290 313.6,293.7 317.6,293.7 317.6,290 316.6,284.5 317.6,279 317.6,275.2" fill="#f5a88e" stroke="#3a3a3a" stroke-width="0.7"/>
<line x1="314.6" y1="284.5" x2="316.6" y2="284.5" stroke="#3a3a3a" stroke-width="0.6"/>
<line x1="320.2" y1="259.1" x2="320.2" y2="276.3" stroke="#c8c8c8" stroke-width="1.3"/>
<line x1="320.2" y1="289.2" x2="320.2" y2="299.8" stroke="#c8c8c8" stroke-width="1.3"/>
<line x1="319.2" y1="259.1" x2="321.2" y2="259.1" stroke="#c8c8c8" stroke-width="0.7"/>
<line x1="319.2" y1="299.8" x2="321.2" y2="299.8" stroke="#c8c8c8" stroke-width="0.7"/>
<polygon points="318.2,276.3 318.2,276.3 319.2,282.5 318.2,289.2 318.2,289.2 322.2,289.2 322.2,289.2 321.2,282.5 322.2,276.3 322.2,276.3" fill="#ee6f55" stroke="#3a3a3a" stroke-width="0.7"/>
<line x1="319.2" y1="282.5" x2="321.2" y2="282.5" stroke="#3a3a3a" stroke-width="0.6"/>
<line x1="324.2" y1="249.2" x2="324.2" y2="272.2" stroke="#4a4a4a" stroke-width="0.7"/>
<line x1="324.2" y1="287.6" x2="324.2" y2="298.9" stroke="#4a4a4a" stroke-width="0.7"/>
<line x1="323.2" y1="249.2" x2="325.2" y2="249.2" stroke="#4a4a4a" stroke-width="0.7"/>
<line x1="323.2" y1="298.9" x2="325.2" y2="298.9" stroke="#4a4a4a" stroke-width="0.7"/>
<polygon points="322.2,272.2 322.2,272.2 323.2,280 322.2,287.6 322.2,287.6 326.2,287.6 326.2,287.6 325.2,280 326.2,272.2 326.2,272.2" fill="#d5332e" stroke="#3a3a3a" stroke-width="0.7"/>
<line x1="323.2" y1="280" x2="325.2" y2="280" stroke="#3a3a3a" stroke-width="0.6"/>
<line x1="328.7" y1="245.1" x2="328.7" y2="271.1" stroke="#4a4a4a" stroke-width="0.7"/>
<line x1="328.7" y1="291.4" x2="328.7" y2="302.7" stroke="#4a4a4a" stroke-width="0.7"/>
<line x1="327.7" y1="245.1" x2="329.7" y2="245.1" stroke="#4a4a4a" stroke-width="0.7"/>
<line x1="327.7" y1="302.7" x2="329.7" y2="302.7" stroke="#4a4a4a" stroke-width="0.7"/>
<polygon points="326.7,271.1 326.7,273 327.7,281 326.7,289 326.7,291.4 330.7,291.4 330.7,289 329.7,281 330.7,273 330.7,271.1" fill="#a8161c" stroke="#3a3a3a" stroke-width="0.7"/>
<line x1="327.7" y1="281" x2="329.7" y2="281" stroke="#3a3a3a" stroke-width="0.6"/>
</g>
<g id="pf">
<clipPath id="clipf"><rect x="363.5" y="201" width="107" height="110.1"/></clipPath>
<g clip-path="url(#clipf)"><circle cx="364.2" cy="212.2" r="1.35" fill="#da2a25"/><circle cx="366.4" cy="233.3" r="1.35" fill="#a50f15"/><circle cx="368.7" cy="237.8" r="1.35" fill="#a50f15"/><circle cx="364.2" cy="241.1" r="1.35" fill="#da2a25"/><circle cx="373.1" cy="246.7" r="1.35" fill="#da2a25"/><circle cx="364.2" cy="253.3" r="1.35" fill="#fa6548"/><circle cx="373.1" cy="243.3" r="1.35" fill="#fdd0bc"/><circle cx="366.4" cy="261.1" r="1.35" fill="#a50f15"/><circle cx="364" cy="265" r="1.35" fill="#fdd0bc"/><circle cx="370.9" cy="266.7" r="1.35" fill="#fa6548"/><circle cx="364.2" cy="270" r="1.35" fill="#fa6548"/><circle cx="378.7" cy="272.2" r="1.35" fill="#a50f15"/><circle cx="378.7" cy="275.6" r="1.35" fill="#a50f15"/><circle cx="372" cy="272.2" r="1.35" fill="#fdd0bc"/><circle cx="370.9" cy="278.9" r="1.35" fill="#da2a25"/><circle cx="365.3" cy="283.3" r="1.35" fill="#a50f15"/><circle cx="373.1" cy="281.1" r="1.35" fill="#da2a25"/><circle cx="377.6" cy="282.2" r="1.35" fill="#da2a25"/><circle cx="365.3" cy="288.9" r="1.35" fill="#da2a25"/><circle cx="373.1" cy="290" r="1.35" fill="#a50f15"/><circle cx="380.9" cy="285.6" r="1.35" fill="#fa6548"/><circle cx="382" cy="291.1" r="1.35" fill="#fca083"/><circle cx="385.3" cy="292.2" r="1.35" fill="#a50f15"/><circle cx="366.4" cy="296.7" r="1.35" fill="#da2a25"/><circle cx="373.1" cy="295.6" r="1.35" fill="#a50f15"/><circle cx="384.2" cy="295.6" r="1.35" fill="#fa6548"/><circle cx="389.8" cy="297.8" r="1.35" fill="#fdd0bc"/><circle cx="387.6" cy="276.7" r="1.35" fill="#fa6548"/><circle cx="393.1" cy="276.7" r="1.35" fill="#fdd0bc"/><circle cx="396.4" cy="284.4" r="1.35" fill="#fdd0bc"/><circle cx="402" cy="281.1" r="1.35" fill="#fdd0bc"/><circle cx="400.9" cy="254.4" r="1.35" fill="#fa6548"/><circle cx="407.6" cy="273.3" r="1.35" fill="#a50f15"/><circle cx="428.7" cy="266.7" r="1.35" fill="#fa6548"/><circle cx="438.7" cy="276.7" r="1.35" fill="#fa6548"/><circle cx="447.6" cy="283.3" r="1.35" fill="#fa6548"/><circle cx="420.9" cy="281.1" r="1.35" fill="#fa6548"/><circle cx="417.6" cy="287.8" r="1.35" fill="#fa6548"/><circle cx="422" cy="294.4" r="1.35" fill="#fca083"/><circle cx="402" cy="293.3" r="1.35" fill="#fa6548"/><circle cx="408.7" cy="294.4" r="1.35" fill="#da2a25"/><circle cx="410.9" cy="300" r="1.35" fill="#a50f15"/><circle cx="419.8" cy="268.9" r="1.35" fill="#fdd0bc"/><circle cx="405.3" cy="291.1" r="1.35" fill="#fdd0bc"/><circle cx="368" cy="276" r="1.35" fill="#fca083"/><circle cx="376" cy="300" r="1.35" fill="#fdd0bc"/><circle cx="370" cy="302" r="1.35" fill="#fca083"/><circle cx="381" cy="298" r="1.35" fill="#da2a25"/><circle cx="367" cy="292" r="1.35" fill="#fdd0bc"/><circle cx="388" cy="288" r="1.35" fill="#fca083"/><circle cx="392" cy="300" r="1.35" fill="#fdd0bc"/><circle cx="359.5" cy="268" r="1.35" fill="#a50f15"/><circle cx="382.7" cy="280.1" r="1.35" fill="#fdd0bc"/><circle cx="373.6" cy="290.1" r="1.35" fill="#a50f15"/><circle cx="374.8" cy="314.4" r="1.35" fill="#da2a25"/><circle cx="371.6" cy="286.5" r="1.35" fill="#fdd0bc"/><circle cx="371.9" cy="292" r="1.35" fill="#fa6548"/><circle cx="373.2" cy="276.3" r="1.35" fill="#fa6548"/><circle cx="375.4" cy="266.9" r="1.35" fill="#fca083"/><circle cx="378.8" cy="299.3" r="1.35" fill="#fdd0bc"/><circle cx="368.6" cy="249.3" r="1.35" fill="#fa6548"/><circle cx="367.9" cy="298.5" r="1.35" fill="#fdd0bc"/><circle cx="367.7" cy="295.1" r="1.35" fill="#fdd0bc"/><circle cx="374.9" cy="282" r="1.35" fill="#fdd0bc"/><circle cx="374.3" cy="254.5" r="1.35" fill="#da2a25"/><circle cx="381" cy="265.8" r="1.35" fill="#fdd0bc"/><circle cx="376.2" cy="290.3" r="1.35" fill="#a50f15"/><circle cx="370.9" cy="285.5" r="1.35" fill="#da2a25"/><circle cx="364.6" cy="278.8" r="1.35" fill="#fa6548"/><circle cx="380.7" cy="274.4" r="1.35" fill="#fa6548"/><circle cx="382.8" cy="263.8" r="1.35" fill="#a50f15"/><circle cx="372.1" cy="278.2" r="1.35" fill="#fa6548"/><circle cx="358.4" cy="281.9" r="1.35" fill="#fdd0bc"/><circle cx="378.9" cy="283" r="1.35" fill="#fdd0bc"/><circle cx="371.2" cy="280.8" r="1.35" fill="#da2a25"/><circle cx="380.4" cy="296.3" r="1.35" fill="#fdd0bc"/><circle cx="369.9" cy="264.4" r="1.35" fill="#a50f15"/><circle cx="379.5" cy="272.8" r="1.35" fill="#fdd0bc"/><circle cx="378.2" cy="298.1" r="1.35" fill="#da2a25"/><path d="M355,265 C356,253.9 361.2,238 364.2,233.3 C367.2,228.6 370.7,234.5 373.1,236.7 C375.5,238.9 377.8,242.8 378.7,246.7 C379.6,250.6 378,255.9 378.7,260 C379.4,264.1 380.7,267.4 383.1,271.1 C385.5,274.8 390.5,278.5 393.1,282.2 C395.7,285.9 397.9,289.6 398.7,293.3 C399.4,297 399.3,301.8 397.6,304.4 C395.9,307 392.8,308.5 388.7,308.9 C384.6,309.3 378.2,308.2 373.1,306.7 C368,305.2 361,306.9 358,300 C355,293.1 354,276.1 355,265Z" fill="none" stroke="#d92823" stroke-width="1.035"/><path d="M355,275 C356,265.8 360.1,251.6 364.2,247.8 C368.3,244 374.2,249.8 379.8,252.2 C385.4,254.6 392.6,258.7 397.6,262.2 C402.6,265.7 407,269.2 409.8,273.3 C412.6,277.4 413.8,282.6 414.2,286.7 C414.6,290.8 414,294.6 412,297.8 C410,301 406.3,303.8 402,305.6 C397.7,307.5 391.6,308.5 386.4,308.9 C381.2,309.3 375.6,308.8 370.9,307.8 C366.2,306.8 360.6,308.5 358,303 C355.4,297.5 354,284.2 355,275Z" fill="none" stroke="#a50f15" stroke-width="1.035"/><path d="M356,278 C356,270 359.5,257 364.2,254.4 C368.9,251.8 377.2,259.6 384.2,262.2 C391.2,264.8 399,268.3 406.4,270 C413.8,271.7 421.6,271.6 428.7,272.2 C435.8,272.8 444.3,271.6 448.7,273.3 C453.1,275 455.3,279.6 455.3,282.2 C455.3,284.8 453.1,286.7 448.7,288.9 C444.3,291.1 435.8,293.6 428.7,295.6 C421.6,297.6 413.8,299.8 406.4,301.1 C399,302.4 391.2,303.1 384.2,303.3 C377.2,303.5 368.9,306.7 364.2,302.5 C359.5,298.3 356,286 356,278Z" fill="none" stroke="#f9603f" stroke-width="1.035"/><path d="M354,262 C359,255.2 375.5,260.7 384.2,261.1 C392.9,261.5 399,262.7 406.4,264.4 C413.8,266.1 422.8,268.1 428.7,271.1 C434.6,274.1 439.4,278.5 442,282.2 C444.6,285.9 445.3,290 444.2,293.3 C443.1,296.6 439.7,300.1 435.3,302.2 C430.9,304.2 424.3,304.9 417.6,305.6 C410.9,306.4 403.6,306.6 395.3,306.7 C387,306.8 374.9,307.3 368,306.5 C361.1,305.7 356.3,309.4 354,302 C351.7,294.6 349,268.8 354,262Z" fill="none" stroke="#fcc5ae" stroke-width="0.9199999999999999"/><path d="M354,266 C359.7,260 381.2,265.7 388,266 C394.8,266.3 389.7,266.3 395,268 C400.3,269.7 414.4,274.4 420,276 C425.6,277.6 427.1,275.7 428.7,277.8 C430.3,279.9 430.6,285.6 429.8,288.9 C429.1,292.2 429.2,295.6 424.2,297.8 C419.2,300 408.2,301.2 400,302 C391.8,302.8 382.7,302.5 375,302.5 C367.3,302.5 357.5,308.1 354,302 C350.5,295.9 348.3,272 354,266Z" fill="none" stroke="#fc9676" stroke-width="0.9199999999999999"/><path d="M398.7,291.1 C399.6,289.1 403.6,286 406.4,285.6 C409.2,285.2 413,286.5 415.3,288.9 C417.6,291.3 419.8,296.9 420.2,300 C420.6,303.1 419.5,307.1 417.6,307.8 C415.7,308.5 411.5,306.1 408.7,304.4 C405.9,302.7 402.6,300 400.9,297.8 C399.2,295.6 397.8,293.1 398.7,291.1Z" fill="none" stroke="#d92823" stroke-width="1.035"/></g>
<rect x="363.5" y="201" width="107" height="110.1" fill="none" stroke="#4a4a4a" stroke-width="0.9"/>
<line x1="363.5" y1="311.1" x2="363.5" y2="313.3" stroke="#4a4a4a" stroke-width="0.7"/>
<text x="363.5" y="320.1" text-anchor="middle" font-size="8.3" textLength="4.35" lengthAdjust="spacingAndGlyphs">0</text>
<line x1="384.9" y1="311.1" x2="384.9" y2="313.3" stroke="#4a4a4a" stroke-width="0.7"/>
<text x="384.9" y="320.1" text-anchor="middle" font-size="8.3" textLength="9.2" lengthAdjust="spacingAndGlyphs">10</text>
<line x1="406.3" y1="311.1" x2="406.3" y2="313.3" stroke="#4a4a4a" stroke-width="0.7"/>
<text x="406.3" y="320.1" text-anchor="middle" font-size="8.3" textLength="9.2" lengthAdjust="spacingAndGlyphs">20</text>
<line x1="427.7" y1="311.1" x2="427.7" y2="313.3" stroke="#4a4a4a" stroke-width="0.7"/>
<text x="427.7" y="320.1" text-anchor="middle" font-size="8.3" textLength="9.2" lengthAdjust="spacingAndGlyphs">30</text>
<line x1="449.1" y1="311.1" x2="449.1" y2="313.3" stroke="#4a4a4a" stroke-width="0.7"/>
<text x="449.1" y="320.1" text-anchor="middle" font-size="8.3" textLength="9.2" lengthAdjust="spacingAndGlyphs">40</text>
<line x1="470.5" y1="311.1" x2="470.5" y2="313.3" stroke="#4a4a4a" stroke-width="0.7"/>
<text x="470.5" y="320.1" text-anchor="middle" font-size="8.3" textLength="9.2" lengthAdjust="spacingAndGlyphs">50</text>
<line x1="361.3" y1="311.1" x2="363.5" y2="311.1" stroke="#4a4a4a" stroke-width="0.7"/>
<text x="360.1" y="313.7" text-anchor="end" font-size="8.3" textLength="11.32" lengthAdjust="spacingAndGlyphs">0.0</text>
<line x1="361.3" y1="292.75" x2="363.5" y2="292.75" stroke="#4a4a4a" stroke-width="0.7"/>
<text x="360.1" y="295.35" text-anchor="end" font-size="8.3" textLength="11.32" lengthAdjust="spacingAndGlyphs">0.5</text>
<line x1="361.3" y1="274.4" x2="363.5" y2="274.4" stroke="#4a4a4a" stroke-width="0.7"/>
<text x="360.1" y="277" text-anchor="end" font-size="8.3" textLength="11.32" lengthAdjust="spacingAndGlyphs">1.0</text>
<line x1="361.3" y1="256.05" x2="363.5" y2="256.05" stroke="#4a4a4a" stroke-width="0.7"/>
<text x="360.1" y="258.65" text-anchor="end" font-size="8.3" textLength="11.32" lengthAdjust="spacingAndGlyphs">1.5</text>
<line x1="361.3" y1="237.7" x2="363.5" y2="237.7" stroke="#4a4a4a" stroke-width="0.7"/>
<text x="360.1" y="240.3" text-anchor="end" font-size="8.3" textLength="11.32" lengthAdjust="spacingAndGlyphs">2.0</text>
<line x1="361.3" y1="219.35" x2="363.5" y2="219.35" stroke="#4a4a4a" stroke-width="0.7"/>
<text x="360.1" y="221.95" text-anchor="end" font-size="8.3" textLength="11.32" lengthAdjust="spacingAndGlyphs">2.5</text>
<line x1="361.3" y1="201" x2="363.5" y2="201" stroke="#4a4a4a" stroke-width="0.7"/>
<text x="360.1" y="203.6" text-anchor="end" font-size="8.3" textLength="11.32" lengthAdjust="spacingAndGlyphs">3.0</text>
<text x="417" y="330" text-anchor="middle" font-size="9.2" textLength="98.4" lengthAdjust="spacingAndGlyphs">Min. tree distance [m]</text>
<text transform="translate(345,256.05) rotate(-90)" x="0" y="0" text-anchor="middle" font-size="9.2" textLength="39" lengthAdjust="spacingAndGlyphs"><tspan font-style="italic">T</tspan><tspan dy="2.2" font-size="6.9" font-style="italic">max</tspan><tspan dy="-2.2"> [m]</tspan></text>
<text x="333" y="183.6" font-size="9.6" fill="#000">f)</text>
<line x1="364.1" y1="177.8" x2="370.6" y2="177.8" stroke="#4a4a4a" stroke-width="0.7"/>
<line x1="403.6" y1="177.8" x2="437.9" y2="177.8" stroke="#4a4a4a" stroke-width="0.7"/>
<line x1="364.1" y1="176.8" x2="364.1" y2="178.8" stroke="#4a4a4a" stroke-width="0.7"/>
<line x1="437.9" y1="176.8" x2="437.9" y2="178.8" stroke="#4a4a4a" stroke-width="0.7"/>
<polygon points="370.6,175.8 385.1,175.8 390.1,176.8 395.6,175.8 403.6,175.8 403.6,179.8 395.6,179.8 390.1,178.8 385.1,179.8 370.6,179.8" fill="#fcd5c5" stroke="#3a3a3a" stroke-width="0.7"/>
<line x1="390.1" y1="176.8" x2="390.1" y2="178.8" stroke="#3a3a3a" stroke-width="0.6"/>
<line x1="364.1" y1="182.6" x2="372.3" y2="182.6" stroke="#c8c8c8" stroke-width="1.3"/>
<line x1="395.6" y1="182.6" x2="428.9" y2="182.6" stroke="#c8c8c8" stroke-width="1.3"/>
<line x1="364.1" y1="181.6" x2="364.1" y2="183.6" stroke="#c8c8c8" stroke-width="0.7"/>
<line x1="428.9" y1="181.6" x2="428.9" y2="183.6" stroke="#c8c8c8" stroke-width="0.7"/>
<polygon points="372.3,180.6 375.1,180.6 379.6,181.6 384.1,180.6 395.6,180.6 395.6,184.6 384.1,184.6 379.6,183.6 375.1,184.6 372.3,184.6" fill="#f5a88e" stroke="#3a3a3a" stroke-width="0.7"/>
<line x1="379.6" y1="181.6" x2="379.6" y2="183.6" stroke="#3a3a3a" stroke-width="0.6"/>
<line x1="364.1" y1="187" x2="372.6" y2="187" stroke="#4a4a4a" stroke-width="0.7"/>
<line x1="410.9" y1="187" x2="447.6" y2="187" stroke="#4a4a4a" stroke-width="0.7"/>
<line x1="364.1" y1="186" x2="364.1" y2="188" stroke="#4a4a4a" stroke-width="0.7"/>
<line x1="447.6" y1="186" x2="447.6" y2="188" stroke="#4a4a4a" stroke-width="0.7"/>
<polygon points="372.6,185 377.1,185 383.6,186 390.1,185 410.9,185 410.9,189 390.1,189 383.6,188 377.1,189 372.6,189" fill="#ee6f55" stroke="#3a3a3a" stroke-width="0.7"/>
<line x1="383.6" y1="186" x2="383.6" y2="188" stroke="#3a3a3a" stroke-width="0.6"/>
<line x1="364.1" y1="191.2" x2="365.6" y2="191.2" stroke="#4a4a4a" stroke-width="0.7"/>
<line x1="373.6" y1="191.2" x2="381.6" y2="191.2" stroke="#4a4a4a" stroke-width="0.7"/>
<line x1="364.1" y1="190.2" x2="364.1" y2="192.2" stroke="#4a4a4a" stroke-width="0.7"/>
<line x1="381.6" y1="190.2" x2="381.6" y2="192.2" stroke="#4a4a4a" stroke-width="0.7"/>
<polygon points="365.6,188.9 365.6,188.9 369.6,190.05 373.6,188.9 373.6,188.9 373.6,193.5 373.6,193.5 369.6,192.35 365.6,193.5 365.6,193.5" fill="#d5332e" stroke="#3a3a3a" stroke-width="0.7"/>
<line x1="369.6" y1="190.05" x2="369.6" y2="192.35" stroke="#3a3a3a" stroke-width="0.6"/>
<line x1="364.1" y1="195.9" x2="365.1" y2="195.9" stroke="#4a4a4a" stroke-width="0.7"/>
<line x1="375.9" y1="195.9" x2="385.6" y2="195.9" stroke="#4a4a4a" stroke-width="0.7"/>
<line x1="364.1" y1="194.9" x2="364.1" y2="196.9" stroke="#4a4a4a" stroke-width="0.7"/>
<line x1="385.6" y1="194.9" x2="385.6" y2="196.9" stroke="#4a4a4a" stroke-width="0.7"/>
<polygon points="365.1,193.6 365.1,193.6 369.1,194.75 374.1,193.6 375.9,193.6 375.9,198.2 374.1,198.2 369.1,197.05 365.1,198.2 365.1,198.2" fill="#a8161c" stroke="#3a3a3a" stroke-width="0.7"/>
<line x1="369.1" y1="194.75" x2="369.1" y2="197.05" stroke="#3a3a3a" stroke-width="0.6"/>
<line x1="475.3" y1="267.6" x2="475.3" y2="277.6" stroke="#4a4a4a" stroke-width="0.7"/>
<line x1="475.3" y1="292.5" x2="475.3" y2="297.5" stroke="#4a4a4a" stroke-width="0.7"/>
<line x1="474.3" y1="267.6" x2="476.3" y2="267.6" stroke="#4a4a4a" stroke-width="0.7"/>
<line x1="474.3" y1="297.5" x2="476.3" y2="297.5" stroke="#4a4a4a" stroke-width="0.7"/>
<polygon points="473.3,277.6 473.3,277.6 474.3,285 473.3,292.5 473.3,292.5 477.3,292.5 477.3,292.5 476.3,285 477.3,277.6 477.3,277.6" fill="#fcd5c5" stroke="#3a3a3a" stroke-width="0.7"/>
<line x1="474.3" y1="285" x2="476.3" y2="285" stroke="#3a3a3a" stroke-width="0.6"/>
<line x1="479.8" y1="264.6" x2="479.8" y2="274.4" stroke="#4a4a4a" stroke-width="0.7"/>
<line x1="479.8" y1="293" x2="479.8" y2="299.3" stroke="#4a4a4a" stroke-width="0.7"/>
<line x1="478.8" y1="264.6" x2="480.8" y2="264.6" stroke="#4a4a4a" stroke-width="0.7"/>
<line x1="478.8" y1="299.3" x2="480.8" y2="299.3" stroke="#4a4a4a" stroke-width="0.7"/>
<polygon points="477.8,274.4 477.8,277 478.8,283.5 477.8,290 477.8,293 481.8,293 481.8,290 480.8,283.5 481.8,277 481.8,274.4" fill="#f5a88e" stroke="#3a3a3a" stroke-width="0.7"/>
<line x1="478.8" y1="283.5" x2="480.8" y2="283.5" stroke="#3a3a3a" stroke-width="0.6"/>
<line x1="484.3" y1="263.5" x2="484.3" y2="277.1" stroke="#c8c8c8" stroke-width="1.3"/>
<line x1="484.3" y1="288.4" x2="484.3" y2="301.6" stroke="#c8c8c8" stroke-width="1.3"/>
<line x1="483.3" y1="263.5" x2="485.3" y2="263.5" stroke="#c8c8c8" stroke-width="0.7"/>
<line x1="483.3" y1="301.6" x2="485.3" y2="301.6" stroke="#c8c8c8" stroke-width="0.7"/>
<polygon points="482.3,277.1 482.3,277.1 483.3,282.7 482.3,288.4 482.3,288.4 486.3,288.4 486.3,288.4 485.3,282.7 486.3,277.1 486.3,277.1" fill="#ee6f55" stroke="#3a3a3a" stroke-width="0.7"/>
<line x1="483.3" y1="282.7" x2="485.3" y2="282.7" stroke="#3a3a3a" stroke-width="0.6"/>
<line x1="488.4" y1="254.4" x2="488.4" y2="271.4" stroke="#4a4a4a" stroke-width="0.7"/>
<line x1="488.4" y1="285.7" x2="488.4" y2="299.8" stroke="#4a4a4a" stroke-width="0.7"/>
<line x1="487.4" y1="254.4" x2="489.4" y2="254.4" stroke="#4a4a4a" stroke-width="0.7"/>
<line x1="487.4" y1="299.8" x2="489.4" y2="299.8" stroke="#4a4a4a" stroke-width="0.7"/>
<polygon points="486.4,271.4 486.4,271.4 487.4,278.5 486.4,285.7 486.4,285.7 490.4,285.7 490.4,285.7 489.4,278.5 490.4,271.4 490.4,271.4" fill="#d5332e" stroke="#3a3a3a" stroke-width="0.7"/>
<line x1="487.4" y1="278.5" x2="489.4" y2="278.5" stroke="#3a3a3a" stroke-width="0.6"/>
<line x1="492.5" y1="242.4" x2="492.5" y2="271.4" stroke="#4a4a4a" stroke-width="0.7"/>
<line x1="492.5" y1="290.7" x2="492.5" y2="302.5" stroke="#4a4a4a" stroke-width="0.7"/>
<line x1="491.5" y1="242.4" x2="493.5" y2="242.4" stroke="#4a4a4a" stroke-width="0.7"/>
<line x1="491.5" y1="302.5" x2="493.5" y2="302.5" stroke="#4a4a4a" stroke-width="0.7"/>
<polygon points="490.5,271.4 490.5,273 491.5,281 490.5,289 490.5,290.7 494.5,290.7 494.5,289 493.5,281 494.5,273 494.5,271.4" fill="#a8161c" stroke="#3a3a3a" stroke-width="0.7"/>
<line x1="491.5" y1="281" x2="493.5" y2="281" stroke="#3a3a3a" stroke-width="0.6"/>
</g>
<g id="pg">
<clipPath id="clipg"><rect x="35.4" y="372" width="107" height="110.1"/></clipPath>
<g clip-path="url(#clipg)"><circle cx="38.5" cy="388.6" r="1.35" fill="#a50f15"/><circle cx="36.2" cy="421.2" r="1.35" fill="#da2a25"/><circle cx="36" cy="430" r="1.35" fill="#fdd0bc"/><circle cx="44.1" cy="432.2" r="1.35" fill="#fa6548"/><circle cx="74.4" cy="432.9" r="1.35" fill="#fdd0bc"/><circle cx="36.2" cy="437.3" r="1.35" fill="#da2a25"/><circle cx="37.5" cy="439.5" r="1.35" fill="#da2a25"/><circle cx="36.2" cy="445" r="1.35" fill="#da2a25"/><circle cx="49.7" cy="448.6" r="1.35" fill="#a50f15"/><circle cx="37.5" cy="448.6" r="1.35" fill="#da2a25"/><circle cx="39.6" cy="453" r="1.35" fill="#fa6548"/><circle cx="41.9" cy="455.3" r="1.35" fill="#fdd0bc"/><circle cx="89" cy="455.3" r="1.35" fill="#fa6548"/><circle cx="36.2" cy="459.8" r="1.35" fill="#a50f15"/><circle cx="40.7" cy="462" r="1.35" fill="#da2a25"/><circle cx="44.1" cy="459.8" r="1.35" fill="#fa6548"/><circle cx="48.6" cy="460.9" r="1.35" fill="#a50f15"/><circle cx="53.1" cy="462" r="1.35" fill="#fa6548"/><circle cx="38.5" cy="465.4" r="1.35" fill="#a50f15"/><circle cx="44.1" cy="465.4" r="1.35" fill="#da2a25"/><circle cx="47.5" cy="466.5" r="1.35" fill="#fdd0bc"/><circle cx="53.1" cy="465.4" r="1.35" fill="#fca083"/><circle cx="57.6" cy="465.4" r="1.35" fill="#a50f15"/><circle cx="39.6" cy="468.8" r="1.35" fill="#da2a25"/><circle cx="46.3" cy="469.9" r="1.35" fill="#a50f15"/><circle cx="52" cy="468.8" r="1.35" fill="#fdd0bc"/><circle cx="60.9" cy="467.7" r="1.35" fill="#fca083"/><circle cx="63.2" cy="468.8" r="1.35" fill="#fdd0bc"/><circle cx="37.4" cy="473.3" r="1.35" fill="#fa6548"/><circle cx="44.1" cy="473.3" r="1.35" fill="#fdd0bc"/><circle cx="50.8" cy="473.3" r="1.35" fill="#a50f15"/><circle cx="58.7" cy="472.1" r="1.35" fill="#fdd0bc"/><circle cx="64.3" cy="472.1" r="1.35" fill="#fca083"/><circle cx="69.9" cy="473.3" r="1.35" fill="#fdd0bc"/><circle cx="56.4" cy="475.5" r="1.35" fill="#fa6548"/><circle cx="82.3" cy="466.5" r="1.35" fill="#da2a25"/><circle cx="82.3" cy="469.9" r="1.35" fill="#a50f15"/><circle cx="93.5" cy="466.5" r="1.35" fill="#fa6548"/><circle cx="94.6" cy="471" r="1.35" fill="#fdd0bc"/><circle cx="100.2" cy="473.3" r="1.35" fill="#fa6548"/><circle cx="119.3" cy="472.1" r="1.35" fill="#fa6548"/><circle cx="110.3" cy="472.1" r="1.35" fill="#fdd0bc"/><circle cx="42" cy="477" r="1.35" fill="#fca083"/><circle cx="50" cy="478" r="1.35" fill="#fdd0bc"/><circle cx="62" cy="477" r="1.35" fill="#da2a25"/><circle cx="72" cy="476" r="1.35" fill="#fdd0bc"/><circle cx="36.5" cy="476" r="1.35" fill="#a50f15"/><circle cx="38.1" cy="462.2" r="1.35" fill="#fdd0bc"/><circle cx="41.8" cy="471.3" r="1.35" fill="#fdd0bc"/><circle cx="60.6" cy="464.3" r="1.35" fill="#da2a25"/><circle cx="49.7" cy="482.6" r="1.35" fill="#fca083"/><circle cx="40.1" cy="472.2" r="1.35" fill="#da2a25"/><circle cx="61.4" cy="468.4" r="1.35" fill="#da2a25"/><circle cx="41.7" cy="455.9" r="1.35" fill="#fa6548"/><circle cx="43.8" cy="468.8" r="1.35" fill="#fdd0bc"/><circle cx="39.9" cy="473.9" r="1.35" fill="#fdd0bc"/><circle cx="36.4" cy="463.9" r="1.35" fill="#a50f15"/><circle cx="52.9" cy="471.6" r="1.35" fill="#a50f15"/><circle cx="51.9" cy="467.5" r="1.35" fill="#fdd0bc"/><circle cx="35.5" cy="457.4" r="1.35" fill="#fa6548"/><circle cx="45.7" cy="460.1" r="1.35" fill="#fca083"/><circle cx="45" cy="476.3" r="1.35" fill="#a50f15"/><circle cx="45.1" cy="471.1" r="1.35" fill="#a50f15"/><circle cx="44.5" cy="463.9" r="1.35" fill="#a50f15"/><circle cx="60.9" cy="461" r="1.35" fill="#a50f15"/><circle cx="54.8" cy="455.9" r="1.35" fill="#fdd0bc"/><circle cx="41.6" cy="463.7" r="1.35" fill="#da2a25"/><circle cx="39.9" cy="460.5" r="1.35" fill="#fa6548"/><circle cx="49" cy="470.6" r="1.35" fill="#a50f15"/><circle cx="59.8" cy="463.1" r="1.35" fill="#da2a25"/><circle cx="47.3" cy="466.7" r="1.35" fill="#a50f15"/><circle cx="39.6" cy="455.2" r="1.35" fill="#a50f15"/><path d="M26,460 C27,454.1 31.9,443.3 36.2,440.7 C40.5,438.1 46.8,442 52,444.1 C57.2,446.2 63.6,450.1 67.7,453.1 C71.8,456.1 75,459 76.7,462 C78.4,465 78.9,468.6 77.8,471 C76.7,473.4 73.5,475.3 69.9,476.6 C66.3,477.9 61.3,478.5 56.4,478.9 C51.5,479.3 45.1,479.4 40.7,478.9 C36.3,478.4 32.5,479.1 30,476 C27.6,472.9 25,465.9 26,460Z" fill="none" stroke="#a50f15" stroke-width="1.035"/><path d="M28,462 C28.7,457.2 33,449.2 36.2,447.5 C39.5,445.8 43.8,449.8 47.5,451.9 C51.2,453.9 56.1,457 58.7,459.8 C61.3,462.6 63.2,466.2 63.2,468.8 C63.2,471.4 61.7,474 58.7,475.5 C55.7,477 49.7,477.7 45.2,477.8 C40.8,477.9 34.9,478.6 32,476 C29.1,473.4 27.3,466.8 28,462Z" fill="none" stroke="#d92823" stroke-width="1.035"/><path d="M28,470 C28,466.4 29.6,460 36.2,458.7 C42.8,457.4 56.9,460.7 67.7,462 C78.5,463.3 93.4,465.3 101.3,466.5 C109.2,467.7 111.8,468.1 115,469 C118.2,469.9 120.2,471.2 120.2,472.2 C120.2,473.2 118.2,474.4 115,475.2 C111.8,476 109.2,476.2 101.3,477 C93.4,477.8 78.5,479.4 67.7,480 C56.9,480.6 42.8,482.2 36.2,480.5 C29.6,478.8 28,473.6 28,470Z" fill="none" stroke="#f9603f" stroke-width="1.035"/><path d="M28,468 C28,463.8 27.7,456.7 36.2,455.3 C44.7,453.9 66.9,457.9 78.9,459.8 C90.9,461.7 102.1,464.2 108.1,466.5 C114.1,468.8 115.2,471.4 114.8,473.3 C114.4,475.2 113.6,476.6 105.8,477.8 C98,479 79.3,480.1 67.7,480.5 C56.1,480.9 42.8,482.6 36.2,480.5 C29.6,478.4 28,472.2 28,468Z" fill="none" stroke="#fcc5ae" stroke-width="0.9199999999999999"/><path d="M28,470 C28,466.8 29.7,460.8 36.2,459.5 C42.7,458.2 56.4,461.1 67,462.5 C77.6,463.9 92.5,466.3 100,468 C107.5,469.7 112,471.3 112,472.5 C112,473.7 107.5,474.1 100,475 C92.5,475.9 77.6,477.4 67,478 C56.4,478.6 42.7,479.8 36.2,478.5 C29.7,477.2 28,473.2 28,470Z" fill="none" stroke="#fc9676" stroke-width="0.9199999999999999"/><path d="M73.3,467.7 C74,466.2 78.5,464.5 81.1,464.3 C83.7,464.1 87.3,465.2 89,466.5 C90.7,467.8 91.8,470.8 91.2,472.1 C90.6,473.4 88,474.2 85.6,474.4 C83.2,474.6 78.8,474.4 76.7,473.3 C74.7,472.2 72.6,469.2 73.3,467.7Z" fill="none" stroke="#d92823" stroke-width="1.035"/></g>
<rect x="35.4" y="372" width="107" height="110.1" fill="none" stroke="#4a4a4a" stroke-width="0.9"/>
<line x1="35.4" y1="482.1" x2="35.4" y2="484.3" stroke="#4a4a4a" stroke-width="0.7"/>
<text x="35.4" y="491.1" text-anchor="middle" font-size="8.3" textLength="4.35" lengthAdjust="spacingAndGlyphs">0</text>
<line x1="56.8" y1="482.1" x2="56.8" y2="484.3" stroke="#4a4a4a" stroke-width="0.7"/>
<text x="56.8" y="491.1" text-anchor="middle" font-size="8.3" textLength="9.2" lengthAdjust="spacingAndGlyphs">10</text>
<line x1="78.2" y1="482.1" x2="78.2" y2="484.3" stroke="#4a4a4a" stroke-width="0.7"/>
<text x="78.2" y="491.1" text-anchor="middle" font-size="8.3" textLength="9.2" lengthAdjust="spacingAndGlyphs">20</text>
<line x1="99.6" y1="482.1" x2="99.6" y2="484.3" stroke="#4a4a4a" stroke-width="0.7"/>
<text x="99.6" y="491.1" text-anchor="middle" font-size="8.3" textLength="9.2" lengthAdjust="spacingAndGlyphs">30</text>
<line x1="121" y1="482.1" x2="121" y2="484.3" stroke="#4a4a4a" stroke-width="0.7"/>
<text x="121" y="491.1" text-anchor="middle" font-size="8.3" textLength="9.2" lengthAdjust="spacingAndGlyphs">40</text>
<line x1="142.4" y1="482.1" x2="142.4" y2="484.3" stroke="#4a4a4a" stroke-width="0.7"/>
<text x="142.4" y="491.1" text-anchor="middle" font-size="8.3" textLength="9.2" lengthAdjust="spacingAndGlyphs">50</text>
<line x1="33.2" y1="482.1" x2="35.4" y2="482.1" stroke="#4a4a4a" stroke-width="0.7"/>
<text x="32" y="484.7" text-anchor="end" font-size="8.3" textLength="11.32" lengthAdjust="spacingAndGlyphs">0.0</text>
<line x1="33.2" y1="463.75" x2="35.4" y2="463.75" stroke="#4a4a4a" stroke-width="0.7"/>
<text x="32" y="466.35" text-anchor="end" font-size="8.3" textLength="11.32" lengthAdjust="spacingAndGlyphs">0.2</text>
<line x1="33.2" y1="445.4" x2="35.4" y2="445.4" stroke="#4a4a4a" stroke-width="0.7"/>
<text x="32" y="448" text-anchor="end" font-size="8.3" textLength="11.32" lengthAdjust="spacingAndGlyphs">0.4</text>
<line x1="33.2" y1="427.05" x2="35.4" y2="427.05" stroke="#4a4a4a" stroke-width="0.7"/>
<text x="32" y="429.65" text-anchor="end" font-size="8.3" textLength="11.32" lengthAdjust="spacingAndGlyphs">0.6</text>
<line x1="33.2" y1="408.7" x2="35.4" y2="408.7" stroke="#4a4a4a" stroke-width="0.7"/>
<text x="32" y="411.3" text-anchor="end" font-size="8.3" textLength="11.32" lengthAdjust="spacingAndGlyphs">0.8</text>
<line x1="33.2" y1="390.35" x2="35.4" y2="390.35" stroke="#4a4a4a" stroke-width="0.7"/>
<text x="32" y="392.95" text-anchor="end" font-size="8.3" textLength="11.32" lengthAdjust="spacingAndGlyphs">1.0</text>
<line x1="33.2" y1="372" x2="35.4" y2="372" stroke="#4a4a4a" stroke-width="0.7"/>
<text x="32" y="374.6" text-anchor="end" font-size="8.3" textLength="11.32" lengthAdjust="spacingAndGlyphs">1.2</text>
<text x="88.9" y="501" text-anchor="middle" font-size="9.2" textLength="98.4" lengthAdjust="spacingAndGlyphs">Min. tree distance [m]</text>
<text transform="translate(16.6,427.05) rotate(-90)" x="0" y="0" text-anchor="middle" font-size="9.2" textLength="46" lengthAdjust="spacingAndGlyphs"><tspan font-style="italic">D</tspan><tspan dy="2.2" font-size="6.9" font-style="italic">mean</tspan><tspan dy="-2.2">/L [-]</tspan></text>
<text x="4.8" y="354.6" font-size="9.6" fill="#000">g)</text>
<line x1="36" y1="348.8" x2="42.5" y2="348.8" stroke="#4a4a4a" stroke-width="0.7"/>
<line x1="75.5" y1="348.8" x2="109.8" y2="348.8" stroke="#4a4a4a" stroke-width="0.7"/>
<line x1="36" y1="347.8" x2="36" y2="349.8" stroke="#4a4a4a" stroke-width="0.7"/>
<line x1="109.8" y1="347.8" x2="109.8" y2="349.8" stroke="#4a4a4a" stroke-width="0.7"/>
<polygon points="42.5,346.8 57,346.8 62,347.8 67.5,346.8 75.5,346.8 75.5,350.8 67.5,350.8 62,349.8 57,350.8 42.5,350.8" fill="#fcd5c5" stroke="#3a3a3a" stroke-width="0.7"/>
<line x1="62" y1="347.8" x2="62" y2="349.8" stroke="#3a3a3a" stroke-width="0.6"/>
<line x1="36" y1="353.6" x2="44.2" y2="353.6" stroke="#c8c8c8" stroke-width="1.3"/>
<line x1="67.5" y1="353.6" x2="100.8" y2="353.6" stroke="#c8c8c8" stroke-width="1.3"/>
<line x1="36" y1="352.6" x2="36" y2="354.6" stroke="#c8c8c8" stroke-width="0.7"/>
<line x1="100.8" y1="352.6" x2="100.8" y2="354.6" stroke="#c8c8c8" stroke-width="0.7"/>
<polygon points="44.2,351.6 47,351.6 51.5,352.6 56,351.6 67.5,351.6 67.5,355.6 56,355.6 51.5,354.6 47,355.6 44.2,355.6" fill="#f5a88e" stroke="#3a3a3a" stroke-width="0.7"/>
<line x1="51.5" y1="352.6" x2="51.5" y2="354.6" stroke="#3a3a3a" stroke-width="0.6"/>
<line x1="36" y1="358" x2="44.5" y2="358" stroke="#4a4a4a" stroke-width="0.7"/>
<line x1="82.8" y1="358" x2="119.5" y2="358" stroke="#4a4a4a" stroke-width="0.7"/>
<line x1="36" y1="357" x2="36" y2="359" stroke="#4a4a4a" stroke-width="0.7"/>
<line x1="119.5" y1="357" x2="119.5" y2="359" stroke="#4a4a4a" stroke-width="0.7"/>
<polygon points="44.5,356 49,356 55.5,357 62,356 82.8,356 82.8,360 62,360 55.5,359 49,360 44.5,360" fill="#ee6f55" stroke="#3a3a3a" stroke-width="0.7"/>
<line x1="55.5" y1="357" x2="55.5" y2="359" stroke="#3a3a3a" stroke-width="0.6"/>
<line x1="36" y1="362.2" x2="37.5" y2="362.2" stroke="#4a4a4a" stroke-width="0.7"/>
<line x1="45.5" y1="362.2" x2="53.5" y2="362.2" stroke="#4a4a4a" stroke-width="0.7"/>
<line x1="36" y1="361.2" x2="36" y2="363.2" stroke="#4a4a4a" stroke-width="0.7"/>
<line x1="53.5" y1="361.2" x2="53.5" y2="363.2" stroke="#4a4a4a" stroke-width="0.7"/>
<polygon points="37.5,359.9 37.5,359.9 41.5,361.05 45.5,359.9 45.5,359.9 45.5,364.5 45.5,364.5 41.5,363.35 37.5,364.5 37.5,364.5" fill="#d5332e" stroke="#3a3a3a" stroke-width="0.7"/>
<line x1="41.5" y1="361.05" x2="41.5" y2="363.35" stroke="#3a3a3a" stroke-width="0.6"/>
<line x1="36" y1="366.9" x2="37" y2="366.9" stroke="#4a4a4a" stroke-width="0.7"/>
<line x1="47.8" y1="366.9" x2="57.5" y2="366.9" stroke="#4a4a4a" stroke-width="0.7"/>
<line x1="36" y1="365.9" x2="36" y2="367.9" stroke="#4a4a4a" stroke-width="0.7"/>
<line x1="57.5" y1="365.9" x2="57.5" y2="367.9" stroke="#4a4a4a" stroke-width="0.7"/>
<polygon points="37,364.6 37,364.6 41,365.75 46,364.6 47.8,364.6 47.8,369.2 46,369.2 41,368.05 37,369.2 37,369.2" fill="#a8161c" stroke="#3a3a3a" stroke-width="0.7"/>
<line x1="41" y1="365.75" x2="41" y2="368.05" stroke="#3a3a3a" stroke-width="0.6"/>
<line x1="147.3" y1="457.3" x2="147.3" y2="465.7" stroke="#4a4a4a" stroke-width="0.7"/>
<line x1="147.3" y1="473.2" x2="147.3" y2="478.4" stroke="#4a4a4a" stroke-width="0.7"/>
<line x1="146.3" y1="457.3" x2="148.3" y2="457.3" stroke="#4a4a4a" stroke-width="0.7"/>
<line x1="146.3" y1="478.4" x2="148.3" y2="478.4" stroke="#4a4a4a" stroke-width="0.7"/>
<polygon points="145.3,465.7 145.3,465.7 146.3,469.5 145.3,473.2 145.3,473.2 149.3,473.2 149.3,473.2 148.3,469.5 149.3,465.7 149.3,465.7" fill="#fcd5c5" stroke="#3a3a3a" stroke-width="0.7"/>
<line x1="146.3" y1="469.5" x2="148.3" y2="469.5" stroke="#3a3a3a" stroke-width="0.6"/>
<line x1="151.8" y1="461.8" x2="151.8" y2="468.6" stroke="#4a4a4a" stroke-width="0.7"/>
<line x1="151.8" y1="473.2" x2="151.8" y2="477" stroke="#4a4a4a" stroke-width="0.7"/>
<line x1="150.8" y1="461.8" x2="152.8" y2="461.8" stroke="#4a4a4a" stroke-width="0.7"/>
<line x1="150.8" y1="477" x2="152.8" y2="477" stroke="#4a4a4a" stroke-width="0.7"/>
<polygon points="149.8,468.6 149.8,468.6 150.8,471 149.8,473.2 149.8,473.2 153.8,473.2 153.8,473.2 152.8,471 153.8,468.6 153.8,468.6" fill="#f5a88e" stroke="#3a3a3a" stroke-width="0.7"/>
<line x1="150.8" y1="471" x2="152.8" y2="471" stroke="#3a3a3a" stroke-width="0.6"/>
<line x1="155.9" y1="455.7" x2="155.9" y2="461.8" stroke="#c8c8c8" stroke-width="1.3"/>
<line x1="155.9" y1="469.8" x2="155.9" y2="476.6" stroke="#c8c8c8" stroke-width="1.3"/>
<line x1="154.9" y1="455.7" x2="156.9" y2="455.7" stroke="#c8c8c8" stroke-width="0.7"/>
<line x1="154.9" y1="476.6" x2="156.9" y2="476.6" stroke="#c8c8c8" stroke-width="0.7"/>
<polygon points="153.9,461.8 153.9,461.8 154.9,465.8 153.9,469.8 153.9,469.8 157.9,469.8 157.9,469.8 156.9,465.8 157.9,461.8 157.9,461.8" fill="#ee6f55" stroke="#3a3a3a" stroke-width="0.7"/>
<line x1="154.9" y1="465.8" x2="156.9" y2="465.8" stroke="#3a3a3a" stroke-width="0.6"/>
<line x1="160.4" y1="452.8" x2="160.4" y2="460.7" stroke="#4a4a4a" stroke-width="0.7"/>
<line x1="160.4" y1="468.6" x2="160.4" y2="474.3" stroke="#4a4a4a" stroke-width="0.7"/>
<line x1="159.4" y1="452.8" x2="161.4" y2="452.8" stroke="#4a4a4a" stroke-width="0.7"/>
<line x1="159.4" y1="474.3" x2="161.4" y2="474.3" stroke="#4a4a4a" stroke-width="0.7"/>
<polygon points="158.4,460.7 158.4,460.7 159.4,464.6 158.4,468.6 158.4,468.6 162.4,468.6 162.4,468.6 161.4,464.6 162.4,460.7 162.4,460.7" fill="#d5332e" stroke="#3a3a3a" stroke-width="0.7"/>
<line x1="159.4" y1="464.6" x2="161.4" y2="464.6" stroke="#3a3a3a" stroke-width="0.6"/>
<line x1="164.5" y1="436.9" x2="164.5" y2="448.9" stroke="#4a4a4a" stroke-width="0.7"/>
<line x1="164.5" y1="467.5" x2="164.5" y2="474.8" stroke="#4a4a4a" stroke-width="0.7"/>
<line x1="163.5" y1="436.9" x2="165.5" y2="436.9" stroke="#4a4a4a" stroke-width="0.7"/>
<line x1="163.5" y1="474.8" x2="165.5" y2="474.8" stroke="#4a4a4a" stroke-width="0.7"/>
<polygon points="162.5,448.9 162.5,452 163.5,458 162.5,464 162.5,467.5 166.5,467.5 166.5,464 165.5,458 166.5,452 166.5,448.9" fill="#a8161c" stroke="#3a3a3a" stroke-width="0.7"/>
<line x1="163.5" y1="458" x2="165.5" y2="458" stroke="#3a3a3a" stroke-width="0.6"/>
</g>
<g id="ph">
<clipPath id="cliph"><rect x="199.6" y="372" width="107" height="110.1"/></clipPath>
<g clip-path="url(#cliph)"><circle cx="238.4" cy="393.1" r="1.35" fill="#fdd0bc"/><circle cx="200.2" cy="400.3" r="1.35" fill="#fdd0bc"/><circle cx="208.1" cy="409.7" r="1.35" fill="#fa6548"/><circle cx="200.2" cy="410.9" r="1.35" fill="#da2a25"/><circle cx="200.2" cy="421.2" r="1.35" fill="#da2a25"/><circle cx="202.5" cy="426.1" r="1.35" fill="#a50f15"/><circle cx="200.2" cy="430.6" r="1.35" fill="#da2a25"/><circle cx="201.4" cy="431.7" r="1.35" fill="#a50f15"/><circle cx="213.7" cy="438.5" r="1.35" fill="#a50f15"/><circle cx="203.6" cy="441.8" r="1.35" fill="#a50f15"/><circle cx="200.2" cy="444.1" r="1.35" fill="#fa6548"/><circle cx="214.8" cy="447.5" r="1.35" fill="#a50f15"/><circle cx="208.1" cy="446.3" r="1.35" fill="#fa6548"/><circle cx="202.5" cy="448.6" r="1.35" fill="#fdd0bc"/><circle cx="204.7" cy="451.9" r="1.35" fill="#da2a25"/><circle cx="209.2" cy="453" r="1.35" fill="#fca083"/><circle cx="216" cy="453" r="1.35" fill="#fa6548"/><circle cx="200.2" cy="457.6" r="1.35" fill="#a50f15"/><circle cx="203.6" cy="458.7" r="1.35" fill="#da2a25"/><circle cx="208.1" cy="456.4" r="1.35" fill="#a50f15"/><circle cx="212.6" cy="456.4" r="1.35" fill="#a50f15"/><circle cx="216" cy="457.6" r="1.35" fill="#fca083"/><circle cx="221.6" cy="459.8" r="1.35" fill="#a50f15"/><circle cx="202.5" cy="464.3" r="1.35" fill="#a50f15"/><circle cx="207" cy="463.2" r="1.35" fill="#da2a25"/><circle cx="210.3" cy="464.3" r="1.35" fill="#fdd0bc"/><circle cx="217.1" cy="465.4" r="1.35" fill="#da2a25"/><circle cx="223.8" cy="463.2" r="1.35" fill="#fa6548"/><circle cx="204.7" cy="468.8" r="1.35" fill="#fdd0bc"/><circle cx="210.3" cy="468.8" r="1.35" fill="#a50f15"/><circle cx="216" cy="468.8" r="1.35" fill="#fdd0bc"/><circle cx="222.7" cy="468.8" r="1.35" fill="#fca083"/><circle cx="228.3" cy="466.5" r="1.35" fill="#fdd0bc"/><circle cx="203.6" cy="473.3" r="1.35" fill="#fa6548"/><circle cx="211.5" cy="472.1" r="1.35" fill="#fdd0bc"/><circle cx="220.5" cy="473.3" r="1.35" fill="#fca083"/><circle cx="228.3" cy="474.4" r="1.35" fill="#fdd0bc"/><circle cx="254.1" cy="449.7" r="1.35" fill="#fa6548"/><circle cx="256.4" cy="462" r="1.35" fill="#fa6548"/><circle cx="258.6" cy="465.4" r="1.35" fill="#fa6548"/><circle cx="246.3" cy="463.2" r="1.35" fill="#da2a25"/><circle cx="247.4" cy="468.8" r="1.35" fill="#a50f15"/><circle cx="264.2" cy="467.7" r="1.35" fill="#fa6548"/><circle cx="275.5" cy="466.5" r="1.35" fill="#fa6548"/><circle cx="233.9" cy="464.3" r="1.35" fill="#fdd0bc"/><circle cx="235" cy="468.8" r="1.35" fill="#fa6548"/><circle cx="232.8" cy="457.6" r="1.35" fill="#fdd0bc"/><circle cx="205" cy="476" r="1.35" fill="#fca083"/><circle cx="215" cy="477" r="1.35" fill="#fdd0bc"/><circle cx="200.5" cy="475" r="1.35" fill="#a50f15"/><circle cx="193.8" cy="463.1" r="1.35" fill="#fdd0bc"/><circle cx="216.9" cy="462.7" r="1.35" fill="#da2a25"/><circle cx="204.4" cy="453.8" r="1.35" fill="#a50f15"/><circle cx="207.7" cy="470.8" r="1.35" fill="#da2a25"/><circle cx="213.1" cy="469.6" r="1.35" fill="#da2a25"/><circle cx="207.6" cy="443.9" r="1.35" fill="#fdd0bc"/><circle cx="209.4" cy="443.8" r="1.35" fill="#a50f15"/><circle cx="207" cy="456" r="1.35" fill="#fdd0bc"/><circle cx="207.9" cy="436.8" r="1.35" fill="#fdd0bc"/><circle cx="214.4" cy="445" r="1.35" fill="#fdd0bc"/><circle cx="201.6" cy="470.1" r="1.35" fill="#fca083"/><circle cx="207.2" cy="467.4" r="1.35" fill="#fca083"/><circle cx="213.8" cy="461.4" r="1.35" fill="#da2a25"/><circle cx="209.4" cy="454" r="1.35" fill="#da2a25"/><circle cx="202.9" cy="442.2" r="1.35" fill="#a50f15"/><circle cx="199.8" cy="452.9" r="1.35" fill="#fdd0bc"/><circle cx="208.5" cy="464.7" r="1.35" fill="#a50f15"/><circle cx="216.7" cy="470.3" r="1.35" fill="#da2a25"/><circle cx="223.6" cy="442" r="1.35" fill="#fdd0bc"/><circle cx="216.5" cy="447.2" r="1.35" fill="#fdd0bc"/><circle cx="208.4" cy="452" r="1.35" fill="#fdd0bc"/><circle cx="217.8" cy="453" r="1.35" fill="#fdd0bc"/><circle cx="195.2" cy="460.1" r="1.35" fill="#da2a25"/><circle cx="207.6" cy="441.1" r="1.35" fill="#da2a25"/><circle cx="205.6" cy="461.3" r="1.35" fill="#da2a25"/><path d="M190,450 C190.9,441.7 196.6,429.5 200.2,426.1 C203.8,422.7 207.4,427.4 211.5,429.5 C215.6,431.6 220.8,435.5 224.9,438.5 C229,441.5 232.8,444.3 236.2,447.5 C239.6,450.7 243,454.4 245.1,457.6 C247.2,460.8 248.9,463.9 248.5,466.5 C248.1,469.1 246.5,471.6 242.9,473.3 C239.3,475 232.8,475.9 227.2,476.6 C221.6,477.4 214.6,477.9 209.2,477.8 C203.8,477.7 198.2,480.6 195,476 C191.8,471.4 189.1,458.3 190,450Z" fill="none" stroke="#a50f15" stroke-width="1.035"/><path d="M192,455 C192.9,448.2 197.3,437.7 200.2,435.1 C203.1,432.5 206.2,437.4 209.2,439.6 C212.2,441.9 215.6,445.2 218.2,448.6 C220.8,452 223.4,456.4 224.9,459.8 C226.4,463.2 227.6,466.2 227.2,468.8 C226.8,471.4 225.7,474 222.7,475.5 C219.7,477 213.8,477.7 209.2,477.8 C204.6,477.9 197.9,479.8 195,476 C192.1,472.2 191.1,461.8 192,455Z" fill="none" stroke="#d92823" stroke-width="1.035"/><path d="M192,462 C192,456.4 193.6,446.3 200.2,444.1 C206.8,441.9 220.8,446.4 231.7,448.6 C242.5,450.9 257.4,455 265.3,457.6 C273.2,460.2 275.8,462.2 279,464 C282.2,465.8 284.4,467.1 284.4,468.3 C284.4,469.6 282.2,470.6 279,471.5 C275.8,472.4 273.2,472.9 265.3,474 C257.4,475.1 242.5,477.1 231.7,477.8 C220.8,478.5 206.8,480.6 200.2,478 C193.6,475.4 192,467.6 192,462Z" fill="none" stroke="#f9603f" stroke-width="1.035"/><path d="M192,462 C192,455.6 193.6,444.8 200.2,441.8 C206.8,438.8 222.7,443 231.7,444.1 C240.7,445.2 247,446 254.1,448.6 C261.2,451.2 270.4,456.4 274.3,459.8 C278.2,463.2 279.2,466.2 277.7,468.8 C276.2,471.4 273,473.6 265.3,475.5 C257.6,477.4 242.5,479.2 231.7,480 C220.8,480.8 206.8,483 200.2,480 C193.6,477 192,468.4 192,462Z" fill="none" stroke="#fcc5ae" stroke-width="0.9199999999999999"/><path d="M192,465 C192,460.7 194.7,452 200.2,450 C205.7,448 217.9,452.3 225,453.2 C232.1,454.1 237.2,454.4 243,455.5 C248.8,456.6 255.7,457.9 260,460 C264.3,462.1 269,465.8 269,468 C269,470.2 267.3,471.7 260,473 C252.7,474.3 235,475.5 225,476 C215,476.5 205.7,477.8 200.2,476 C194.7,474.2 192,469.3 192,465Z" fill="none" stroke="#fc9676" stroke-width="0.9199999999999999"/><path d="M238.4,459.8 C239.3,458.5 242.7,457.2 245.1,457.6 C247.5,458 251.5,460.1 253,462 C254.5,463.9 255,467.3 254.1,468.8 C253.2,470.3 249.8,471.6 247.4,471 C245,470.4 241,467.3 239.5,465.4 C238,463.5 237.5,461.1 238.4,459.8Z" fill="none" stroke="#d92823" stroke-width="1.035"/></g>
<rect x="199.6" y="372" width="107" height="110.1" fill="none" stroke="#4a4a4a" stroke-width="0.9"/>
<line x1="199.6" y1="482.1" x2="199.6" y2="484.3" stroke="#4a4a4a" stroke-width="0.7"/>
<text x="199.6" y="491.1" text-anchor="middle" font-size="8.3" textLength="4.35" lengthAdjust="spacingAndGlyphs">0</text>
<line x1="221" y1="482.1" x2="221" y2="484.3" stroke="#4a4a4a" stroke-width="0.7"/>
<text x="221" y="491.1" text-anchor="middle" font-size="8.3" textLength="9.2" lengthAdjust="spacingAndGlyphs">10</text>
<line x1="242.4" y1="482.1" x2="242.4" y2="484.3" stroke="#4a4a4a" stroke-width="0.7"/>
<text x="242.4" y="491.1" text-anchor="middle" font-size="8.3" textLength="9.2" lengthAdjust="spacingAndGlyphs">20</text>
<line x1="263.8" y1="482.1" x2="263.8" y2="484.3" stroke="#4a4a4a" stroke-width="0.7"/>
<text x="263.8" y="491.1" text-anchor="middle" font-size="8.3" textLength="9.2" lengthAdjust="spacingAndGlyphs">30</text>
<line x1="285.2" y1="482.1" x2="285.2" y2="484.3" stroke="#4a4a4a" stroke-width="0.7"/>
<text x="285.2" y="491.1" text-anchor="middle" font-size="8.3" textLength="9.2" lengthAdjust="spacingAndGlyphs">40</text>
<line x1="306.6" y1="482.1" x2="306.6" y2="484.3" stroke="#4a4a4a" stroke-width="0.7"/>
<text x="306.6" y="491.1" text-anchor="middle" font-size="8.3" textLength="9.2" lengthAdjust="spacingAndGlyphs">50</text>
<line x1="197.4" y1="482.1" x2="199.6" y2="482.1" stroke="#4a4a4a" stroke-width="0.7"/>
<text x="196.2" y="484.7" text-anchor="end" font-size="8.3" textLength="11.32" lengthAdjust="spacingAndGlyphs">0.0</text>
<line x1="197.4" y1="463.75" x2="199.6" y2="463.75" stroke="#4a4a4a" stroke-width="0.7"/>
<text x="196.2" y="466.35" text-anchor="end" font-size="8.3" textLength="11.32" lengthAdjust="spacingAndGlyphs">0.1</text>
<line x1="197.4" y1="445.4" x2="199.6" y2="445.4" stroke="#4a4a4a" stroke-width="0.7"/>
<text x="196.2" y="448" text-anchor="end" font-size="8.3" textLength="11.32" lengthAdjust="spacingAndGlyphs">0.2</text>
<line x1="197.4" y1="427.05" x2="199.6" y2="427.05" stroke="#4a4a4a" stroke-width="0.7"/>
<text x="196.2" y="429.65" text-anchor="end" font-size="8.3" textLength="11.32" lengthAdjust="spacingAndGlyphs">0.3</text>
<line x1="197.4" y1="408.7" x2="199.6" y2="408.7" stroke="#4a4a4a" stroke-width="0.7"/>
<text x="196.2" y="411.3" text-anchor="end" font-size="8.3" textLength="11.32" lengthAdjust="spacingAndGlyphs">0.4</text>
<line x1="197.4" y1="390.35" x2="199.6" y2="390.35" stroke="#4a4a4a" stroke-width="0.7"/>
<text x="196.2" y="392.95" text-anchor="end" font-size="8.3" textLength="11.32" lengthAdjust="spacingAndGlyphs">0.5</text>
<line x1="197.4" y1="372" x2="199.6" y2="372" stroke="#4a4a4a" stroke-width="0.7"/>
<text x="196.2" y="374.6" text-anchor="end" font-size="8.3" textLength="11.32" lengthAdjust="spacingAndGlyphs">0.6</text>
<text x="253.1" y="501" text-anchor="middle" font-size="9.2" textLength="98.4" lengthAdjust="spacingAndGlyphs">Min. tree distance [m]</text>
<text transform="translate(180.5,427.05) rotate(-90)" x="0" y="0" text-anchor="middle" font-size="9.2" textLength="45" lengthAdjust="spacingAndGlyphs"><tspan font-style="italic">T</tspan><tspan dy="2.2" font-size="6.9" font-style="italic">mean</tspan><tspan dy="-2.2">/L [-]</tspan></text>
<text x="168.9" y="354.6" font-size="9.6" fill="#000">h)</text>
<line x1="200.2" y1="348.8" x2="206.7" y2="348.8" stroke="#4a4a4a" stroke-width="0.7"/>
<line x1="239.7" y1="348.8" x2="274" y2="348.8" stroke="#4a4a4a" stroke-width="0.7"/>
<line x1="200.2" y1="347.8" x2="200.2" y2="349.8" stroke="#4a4a4a" stroke-width="0.7"/>
<line x1="274" y1="347.8" x2="274" y2="349.8" stroke="#4a4a4a" stroke-width="0.7"/>
<polygon points="206.7,346.8 221.2,346.8 226.2,347.8 231.7,346.8 239.7,346.8 239.7,350.8 231.7,350.8 226.2,349.8 221.2,350.8 206.7,350.8" fill="#fcd5c5" stroke="#3a3a3a" stroke-width="0.7"/>
<line x1="226.2" y1="347.8" x2="226.2" y2="349.8" stroke="#3a3a3a" stroke-width="0.6"/>
<line x1="200.2" y1="353.6" x2="208.4" y2="353.6" stroke="#c8c8c8" stroke-width="1.3"/>
<line x1="231.7" y1="353.6" x2="265" y2="353.6" stroke="#c8c8c8" stroke-width="1.3"/>
<line x1="200.2" y1="352.6" x2="200.2" y2="354.6" stroke="#c8c8c8" stroke-width="0.7"/>
<line x1="265" y1="352.6" x2="265" y2="354.6" stroke="#c8c8c8" stroke-width="0.7"/>
<polygon points="208.4,351.6 211.2,351.6 215.7,352.6 220.2,351.6 231.7,351.6 231.7,355.6 220.2,355.6 215.7,354.6 211.2,355.6 208.4,355.6" fill="#f5a88e" stroke="#3a3a3a" stroke-width="0.7"/>
<line x1="215.7" y1="352.6" x2="215.7" y2="354.6" stroke="#3a3a3a" stroke-width="0.6"/>
<line x1="200.2" y1="358" x2="208.7" y2="358" stroke="#4a4a4a" stroke-width="0.7"/>
<line x1="247" y1="358" x2="283.7" y2="358" stroke="#4a4a4a" stroke-width="0.7"/>
<line x1="200.2" y1="357" x2="200.2" y2="359" stroke="#4a4a4a" stroke-width="0.7"/>
<line x1="283.7" y1="357" x2="283.7" y2="359" stroke="#4a4a4a" stroke-width="0.7"/>
<polygon points="208.7,356 213.2,356 219.7,357 226.2,356 247,356 247,360 226.2,360 219.7,359 213.2,360 208.7,360" fill="#ee6f55" stroke="#3a3a3a" stroke-width="0.7"/>
<line x1="219.7" y1="357" x2="219.7" y2="359" stroke="#3a3a3a" stroke-width="0.6"/>
<line x1="200.2" y1="362.2" x2="201.7" y2="362.2" stroke="#4a4a4a" stroke-width="0.7"/>
<line x1="209.7" y1="362.2" x2="217.7" y2="362.2" stroke="#4a4a4a" stroke-width="0.7"/>
<line x1="200.2" y1="361.2" x2="200.2" y2="363.2" stroke="#4a4a4a" stroke-width="0.7"/>
<line x1="217.7" y1="361.2" x2="217.7" y2="363.2" stroke="#4a4a4a" stroke-width="0.7"/>
<polygon points="201.7,359.9 201.7,359.9 205.7,361.05 209.7,359.9 209.7,359.9 209.7,364.5 209.7,364.5 205.7,363.35 201.7,364.5 201.7,364.5" fill="#d5332e" stroke="#3a3a3a" stroke-width="0.7"/>
<line x1="205.7" y1="361.05" x2="205.7" y2="363.35" stroke="#3a3a3a" stroke-width="0.6"/>
<line x1="200.2" y1="366.9" x2="201.2" y2="366.9" stroke="#4a4a4a" stroke-width="0.7"/>
<line x1="212" y1="366.9" x2="221.7" y2="366.9" stroke="#4a4a4a" stroke-width="0.7"/>
<line x1="200.2" y1="365.9" x2="200.2" y2="367.9" stroke="#4a4a4a" stroke-width="0.7"/>
<line x1="221.7" y1="365.9" x2="221.7" y2="367.9" stroke="#4a4a4a" stroke-width="0.7"/>
<polygon points="201.2,364.6 201.2,364.6 205.2,365.75 210.2,364.6 212,364.6 212,369.2 210.2,369.2 205.2,368.05 201.2,369.2 201.2,369.2" fill="#a8161c" stroke="#3a3a3a" stroke-width="0.7"/>
<line x1="205.2" y1="365.75" x2="205.2" y2="368.05" stroke="#3a3a3a" stroke-width="0.6"/>
<line x1="311.3" y1="447.6" x2="311.3" y2="455.7" stroke="#4a4a4a" stroke-width="0.7"/>
<line x1="311.3" y1="468.6" x2="311.3" y2="476.6" stroke="#4a4a4a" stroke-width="0.7"/>
<line x1="310.3" y1="447.6" x2="312.3" y2="447.6" stroke="#4a4a4a" stroke-width="0.7"/>
<line x1="310.3" y1="476.6" x2="312.3" y2="476.6" stroke="#4a4a4a" stroke-width="0.7"/>
<polygon points="309.3,455.7 309.3,455.7 310.3,462 309.3,468.6 309.3,468.6 313.3,468.6 313.3,468.6 312.3,462 313.3,455.7 313.3,455.7" fill="#fcd5c5" stroke="#3a3a3a" stroke-width="0.7"/>
<line x1="310.3" y1="462" x2="312.3" y2="462" stroke="#3a3a3a" stroke-width="0.6"/>
<line x1="315.8" y1="456" x2="315.8" y2="461.8" stroke="#4a4a4a" stroke-width="0.7"/>
<line x1="315.8" y1="468.6" x2="315.8" y2="475.4" stroke="#4a4a4a" stroke-width="0.7"/>
<line x1="314.8" y1="456" x2="316.8" y2="456" stroke="#4a4a4a" stroke-width="0.7"/>
<line x1="314.8" y1="475.4" x2="316.8" y2="475.4" stroke="#4a4a4a" stroke-width="0.7"/>
<polygon points="313.8,461.8 313.8,461.8 314.8,465 313.8,468.6 313.8,468.6 317.8,468.6 317.8,468.6 316.8,465 317.8,461.8 317.8,461.8" fill="#f5a88e" stroke="#3a3a3a" stroke-width="0.7"/>
<line x1="314.8" y1="465" x2="316.8" y2="465" stroke="#3a3a3a" stroke-width="0.6"/>
<line x1="320.3" y1="447.6" x2="320.3" y2="456.2" stroke="#c8c8c8" stroke-width="1.3"/>
<line x1="320.3" y1="465.2" x2="320.3" y2="473.9" stroke="#c8c8c8" stroke-width="1.3"/>
<line x1="319.3" y1="447.6" x2="321.3" y2="447.6" stroke="#c8c8c8" stroke-width="0.7"/>
<line x1="319.3" y1="473.9" x2="321.3" y2="473.9" stroke="#c8c8c8" stroke-width="0.7"/>
<polygon points="318.3,456.2 318.3,456.2 319.3,460.7 318.3,465.2 318.3,465.2 322.3,465.2 322.3,465.2 321.3,460.7 322.3,456.2 322.3,456.2" fill="#ee6f55" stroke="#3a3a3a" stroke-width="0.7"/>
<line x1="319.3" y1="460.7" x2="321.3" y2="460.7" stroke="#3a3a3a" stroke-width="0.6"/>
<line x1="324.4" y1="440.7" x2="324.4" y2="452.1" stroke="#4a4a4a" stroke-width="0.7"/>
<line x1="324.4" y1="464.1" x2="324.4" y2="469.8" stroke="#4a4a4a" stroke-width="0.7"/>
<line x1="323.4" y1="440.7" x2="325.4" y2="440.7" stroke="#4a4a4a" stroke-width="0.7"/>
<line x1="323.4" y1="469.8" x2="325.4" y2="469.8" stroke="#4a4a4a" stroke-width="0.7"/>
<polygon points="322.4,452.1 322.4,452.1 323.4,458 322.4,464.1 322.4,464.1 326.4,464.1 326.4,464.1 325.4,458 326.4,452.1 326.4,452.1" fill="#d5332e" stroke="#3a3a3a" stroke-width="0.7"/>
<line x1="323.4" y1="458" x2="325.4" y2="458" stroke="#3a3a3a" stroke-width="0.6"/>
<line x1="328.5" y1="410.8" x2="328.5" y2="440.3" stroke="#4a4a4a" stroke-width="0.7"/>
<line x1="328.5" y1="464.1" x2="328.5" y2="473.2" stroke="#4a4a4a" stroke-width="0.7"/>
<line x1="327.5" y1="410.8" x2="329.5" y2="410.8" stroke="#4a4a4a" stroke-width="0.7"/>
<line x1="327.5" y1="473.2" x2="329.5" y2="473.2" stroke="#4a4a4a" stroke-width="0.7"/>
<polygon points="326.5,440.3 326.5,445 327.5,452 326.5,459 326.5,464.1 330.5,464.1 330.5,459 329.5,452 330.5,445 330.5,440.3" fill="#a8161c" stroke="#3a3a3a" stroke-width="0.7"/>
<line x1="327.5" y1="452" x2="329.5" y2="452" stroke="#3a3a3a" stroke-width="0.6"/>
</g>
<rect x="362.3" y="372.1" width="113.7" height="109.7" fill="#fff" stroke="#888" stroke-width="0.7"/>
<text style="stroke-width:0.05px" x="368" y="385.1" font-size="9" textLength="102" lengthAdjust="spacingAndGlyphs">Average pre-failure slope</text>
<text style="stroke-width:0.05px" x="368" y="394" font-size="9" textLength="92" lengthAdjust="spacingAndGlyphs">from the 2013 DTM [°]</text>
<text style="stroke-width:0.05px" x="368" y="409" font-size="9" textLength="99" lengthAdjust="spacingAndGlyphs">(# samples within class)</text>
<circle cx="376" cy="422" r="2.15" fill="#fdd0bc"/>
<text style="stroke-width:0.05px" x="390.9" y="425" font-size="9" textLength="53" lengthAdjust="spacingAndGlyphs">&lt;= 35.0 (28)</text>
<circle cx="376" cy="434.2" r="2.15" fill="#fca083"/>
<text style="stroke-width:0.05px" x="390.9" y="437.2" font-size="9" textLength="63.1" lengthAdjust="spacingAndGlyphs">35.0 - 37.5 (16)</text>
<circle cx="376" cy="446.4" r="2.15" fill="#fa6548"/>
<text style="stroke-width:0.05px" x="390.9" y="449.4" font-size="9" textLength="63.1" lengthAdjust="spacingAndGlyphs">37.5 - 40.0 (22)</text>
<circle cx="376" cy="458.6" r="2.15" fill="#da2a25"/>
<text style="stroke-width:0.05px" x="390.9" y="461.6" font-size="9" textLength="63.1" lengthAdjust="spacingAndGlyphs">40.0 - 42.5 (17)</text>
<circle cx="376" cy="470.8" r="2.15" fill="#a50f15"/>
<text style="stroke-width:0.05px" x="390.9" y="473.8" font-size="9" textLength="46" lengthAdjust="spacingAndGlyphs">&gt; 42.5 (27)</text>
</svg></body></html>
